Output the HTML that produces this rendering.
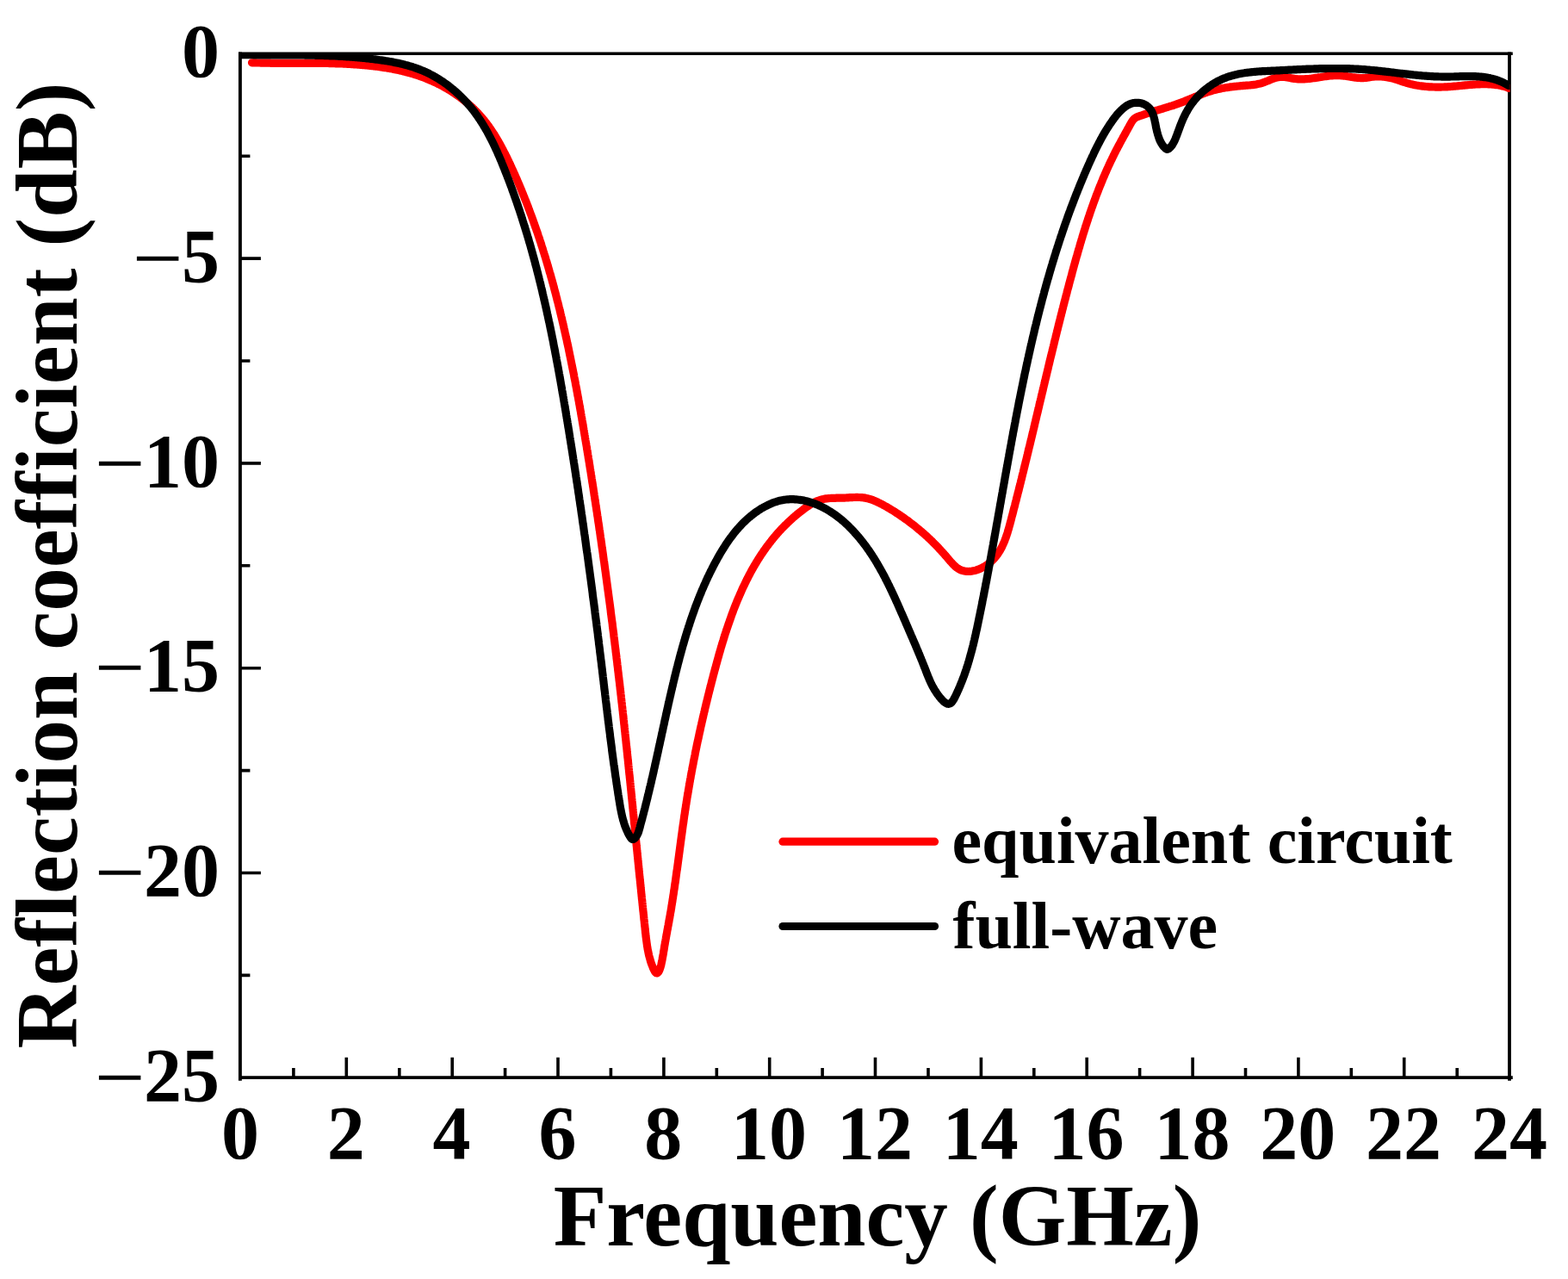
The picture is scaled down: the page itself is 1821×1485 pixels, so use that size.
<!DOCTYPE html>
<html><head><meta charset="utf-8"><title>Reflection coefficient</title>
<style>html,body{margin:0;padding:0;background:#fff;overflow:hidden;}svg{display:block;}</style></head>
<body><svg width="1821" height="1485" viewBox="0 0 1821 1485">
<rect width="1821" height="1485" fill="#fff"/>
<g stroke="#000" fill="none"><path d="M277,62.3 H1756.8" stroke-width="3.6"/><path d="M277,1251.1 H1756.8" stroke-width="3.7"/><path d="M278.9,60.5 V1254.8" stroke-width="3.9"/><path d="M1753.0,60.5 V1254.8" stroke-width="3.8"/></g>
<path d="M340.9,1251.1 V1239.8999999999999 M402.3,1251.1 V1227.8 M463.8,1251.1 V1239.8999999999999 M525.2,1251.1 V1227.8 M586.6,1251.1 V1239.8999999999999 M648.0,1251.1 V1227.8 M709.4,1251.1 V1239.8999999999999 M770.9,1251.1 V1227.8 M832.3,1251.1 V1239.8999999999999 M893.7,1251.1 V1227.8 M955.1,1251.1 V1239.8999999999999 M1016.5,1251.1 V1227.8 M1078.0,1251.1 V1239.8999999999999 M1139.4,1251.1 V1227.8 M1200.8,1251.1 V1239.8999999999999 M1262.2,1251.1 V1227.8 M1323.6,1251.1 V1239.8999999999999 M1385.1,1251.1 V1227.8 M1446.5,1251.1 V1239.8999999999999 M1507.9,1251.1 V1227.8 M1569.3,1251.1 V1239.8999999999999 M1630.7,1251.1 V1227.8 M1692.2,1251.1 V1239.8999999999999 M278.9,181.2 H290.4 M278.9,300.1 H302.9 M278.9,419.0 H290.4 M278.9,537.9 H302.9 M278.9,656.8 H290.4 M278.9,775.7 H302.9 M278.9,894.6 H290.4 M278.9,1013.5 H302.9 M278.9,1132.4 H290.4" stroke="#000" stroke-width="3.6" fill="none"/>
<defs><clipPath id="pa"><rect x="278.9" y="62.3" width="1474.7" height="1188.8"/></clipPath></defs>
<g clip-path="url(#pa)" fill="none" stroke-width="9.2" stroke-linejoin="round" stroke-linecap="round">
<path d="M292.5,72.8 L294.0,72.8 L295.5,72.9 L297.0,72.9 L298.5,73.0 L300.0,73.0 L301.5,73.0 L303.0,73.1 L304.5,73.1 L306.0,73.1 L307.5,73.2 L309.0,73.2 L310.5,73.2 L312.0,73.2 L313.5,73.2 L315.0,73.3 L316.5,73.3 L318.0,73.3 L319.5,73.3 L321.0,73.3 L322.5,73.3 L324.0,73.3 L325.5,73.3 L327.0,73.3 L328.5,73.3 L330.0,73.3 L331.5,73.3 L333.0,73.3 L334.5,73.3 L336.0,73.3 L337.5,73.3 L339.0,73.3 L340.5,73.3 L342.0,73.3 L343.5,73.3 L345.0,73.3 L346.5,73.3 L348.0,73.3 L349.5,73.3 L351.0,73.3 L352.5,73.3 L354.0,73.3 L355.5,73.3 L357.0,73.3 L358.5,73.3 L360.0,73.3 L361.5,73.3 L363.1,73.3 L364.6,73.3 L366.1,73.4 L367.6,73.4 L369.1,73.4 L370.6,73.4 L372.1,73.4 L373.6,73.4 L375.1,73.4 L376.6,73.5 L378.1,73.5 L379.6,73.5 L381.1,73.5 L382.6,73.6 L384.1,73.6 L385.6,73.6 L387.1,73.7 L388.6,73.7 L390.1,73.8 L391.6,73.8 L393.1,73.9 L394.6,73.9 L396.1,74.0 L397.6,74.0 L399.1,74.1 L400.6,74.2 L402.1,74.2 L403.6,74.3 L405.1,74.4 L406.6,74.5 L408.1,74.6 L409.6,74.7 L411.1,74.8 L412.6,74.9 L414.1,75.0 L415.6,75.1 L417.1,75.2 L418.6,75.3 L420.0,75.4 L421.5,75.6 L423.0,75.7 L424.5,75.8 L426.0,76.0 L427.5,76.1 L429.0,76.3 L430.5,76.4 L432.0,76.6 L433.5,76.8 L435.0,76.9 L436.5,77.1 L437.9,77.3 L439.4,77.5 L440.9,77.7 L442.4,77.9 L443.9,78.1 L445.4,78.4 L446.9,78.6 L448.3,78.8 L449.8,79.1 L451.3,79.3 L452.8,79.6 L454.2,79.8 L455.7,80.1 L457.2,80.4 L458.7,80.7 L460.1,81.0 L461.6,81.3 L463.1,81.6 L464.5,81.9 L466.0,82.3 L467.4,82.6 L468.9,83.0 L470.3,83.3 L471.8,83.7 L473.2,84.1 L474.7,84.5 L476.1,84.9 L477.6,85.3 L479.0,85.7 L480.4,86.1 L481.9,86.6 L483.3,87.0 L484.7,87.5 L486.1,88.0 L487.5,88.5 L488.9,88.9 L490.4,89.5 L491.8,90.0 L493.2,90.5 L494.6,91.1 L496.0,91.6 L497.3,92.2 L498.7,92.8 L500.1,93.3 L501.5,93.9 L502.9,94.6 L504.2,95.2 L505.6,95.8 L506.9,96.5 L508.3,97.2 L509.6,97.8 L511.0,98.5 L512.3,99.2 L513.7,99.9 L515.0,100.7 L516.3,101.4 L517.6,102.1 L518.9,102.9 L520.2,103.7 L521.5,104.4 L522.8,105.2 L524.1,106.0 L525.4,106.8 L526.6,107.7 L527.9,108.5 L529.1,109.3 L530.4,110.2 L531.6,111.1 L532.8,111.9 L534.1,112.8 L535.3,113.7 L536.5,114.6 L537.7,115.6 L538.8,116.5 L540.0,117.4 L541.2,118.4 L542.3,119.3 L543.5,120.3 L544.6,121.3 L545.7,122.3 L546.9,123.3 L548.0,124.3 L549.0,125.3 L550.1,126.3 L551.2,127.4 L552.2,128.4 L553.3,129.5 L554.3,130.6 L555.3,131.7 L556.3,132.8 L557.3,133.9 L558.3,135.0 L559.3,136.1 L560.2,137.2 L561.2,138.4 L562.1,139.5 L563.1,140.7 L564.0,141.9 L564.9,143.0 L565.8,144.2 L566.7,145.4 L567.5,146.6 L568.4,147.8 L569.2,149.1 L570.1,150.3 L570.9,151.5 L571.7,152.7 L572.6,154.0 L573.4,155.2 L574.2,156.5 L575.0,157.8 L575.7,159.0 L576.5,160.3 L577.3,161.6 L578.0,162.9 L578.8,164.2 L579.5,165.5 L580.3,166.8 L581.0,168.1 L581.7,169.4 L582.4,170.7 L583.1,172.1 L583.9,173.4 L584.5,174.7 L585.2,176.1 L585.9,177.4 L586.6,178.7 L587.3,180.1 L588.0,181.4 L588.6,182.8 L589.3,184.2 L589.9,185.5 L590.6,186.9 L591.2,188.2 L591.9,189.6 L592.5,191.0 L593.1,192.3 L593.8,193.7 L594.4,195.1 L595.0,196.4 L595.6,197.8 L596.3,199.2 L596.9,200.6 L597.5,201.9 L598.1,203.3 L598.7,204.7 L599.3,206.1 L599.9,207.5 L600.5,208.8 L601.1,210.2 L601.7,211.6 L602.3,213.0 L602.9,214.4 L603.5,215.8 L604.0,217.1 L604.6,218.5 L605.2,219.9 L605.8,221.3 L606.3,222.7 L606.9,224.1 L607.5,225.5 L608.0,226.9 L608.6,228.3 L609.2,229.7 L609.7,231.1 L610.3,232.5 L610.8,233.8 L611.4,235.2 L611.9,236.6 L612.4,238.0 L613.0,239.4 L613.5,240.8 L614.0,242.2 L614.6,243.6 L615.1,245.1 L615.6,246.5 L616.1,247.9 L616.7,249.3 L617.2,250.7 L617.7,252.1 L618.2,253.5 L618.7,254.9 L619.2,256.3 L619.7,257.7 L620.2,259.1 L620.7,260.5 L621.2,262.0 L621.7,263.4 L622.2,264.8 L622.7,266.2 L623.2,267.6 L623.7,269.0 L624.2,270.4 L624.7,271.9 L625.1,273.3 L625.6,274.7 L626.1,276.1 L626.6,277.5 L627.0,279.0 L627.5,280.4 L628.0,281.8 L628.4,283.2 L628.9,284.7 L629.3,286.1 L629.8,287.5 L630.2,288.9 L630.7,290.4 L631.1,291.8 L631.6,293.2 L632.0,294.6 L632.5,296.1 L632.9,297.5 L633.4,298.9 L633.8,300.4 L634.2,301.8 L634.7,303.2 L635.1,304.7 L635.5,306.1 L635.9,307.5 L636.4,309.0 L636.8,310.4 L637.2,311.9 L637.6,313.3 L638.0,314.7 L638.4,316.2 L638.9,317.6 L639.3,319.0 L639.7,320.5 L640.1,321.9 L640.5,323.4 L640.9,324.8 L641.3,326.3 L641.7,327.7 L642.1,329.1 L642.5,330.6 L642.9,332.0 L643.3,333.5 L643.6,334.9 L644.0,336.4 L644.4,337.8 L644.8,339.3 L645.2,340.7 L645.6,342.2 L645.9,343.6 L646.3,345.1 L646.7,346.5 L647.0,348.0 L647.4,349.4 L647.8,350.9 L648.2,352.3 L648.5,353.8 L648.9,355.2 L649.2,356.7 L649.6,358.1 L650.0,359.6 L650.3,361.0 L650.7,362.5 L651.0,364.0 L651.4,365.4 L651.7,366.9 L652.1,368.3 L652.4,369.8 L652.8,371.2 L653.1,372.7 L653.5,374.2 L653.8,375.6 L654.1,377.1 L654.5,378.5 L654.8,380.0 L655.1,381.5 L655.5,382.9 L655.8,384.4 L656.1,385.9 L656.5,387.3 L656.8,388.8 L657.1,390.3 L657.4,391.7 L657.8,393.2 L658.1,394.6 L658.4,396.1 L658.7,397.6 L659.0,399.0 L659.4,400.5 L659.7,402.0 L660.0,403.4 L660.3,404.9 L660.6,406.4 L660.9,407.9 L661.2,409.3 L661.5,410.8 L661.8,412.3 L662.1,413.7 L662.4,415.2 L662.7,416.7 L663.0,418.1 L663.3,419.6 L663.6,421.1 L663.9,422.6 L664.2,424.0 L664.5,425.5 L664.8,427.0 L665.1,428.5 L665.4,429.9 L665.7,431.4 L666.0,432.9 L666.3,434.3 L666.6,435.8 L666.8,437.3 L667.1,438.8 L667.4,440.2 L667.7,441.7 L668.0,443.2 L668.3,444.7 L668.5,446.2 L668.8,447.6 L669.1,449.1 L669.4,450.6 L669.7,452.1 L669.9,453.5 L670.2,455.0 L670.5,456.5 L670.7,458.0 L671.0,459.5 L671.3,460.9 L671.6,462.4 L671.8,463.9 L672.1,465.4 L672.4,466.8 L672.6,468.3 L672.9,469.8 L673.2,471.3 L673.4,472.8 L673.7,474.2 L673.9,475.7 L674.2,477.2 L674.5,478.7 L674.7,480.2 L675.0,481.6 L675.2,483.1 L675.5,484.6 L675.8,486.1 L676.0,487.6 L676.3,489.1 L676.5,490.5 L676.8,492.0 L677.0,493.5 L677.3,495.0 L677.5,496.5 L677.8,497.9 L678.0,499.4 L678.3,500.9 L678.5,502.4 L678.8,503.9 L679.0,505.4 L679.3,506.8 L679.5,508.3 L679.8,509.8 L680.0,511.3 L680.3,512.8 L680.5,514.3 L680.8,515.7 L681.0,517.2 L681.3,518.7 L681.5,520.2 L681.7,521.7 L682.0,523.2 L682.2,524.6 L682.5,526.1 L682.7,527.6 L683.0,529.1 L683.2,530.6 L683.4,532.1 L683.7,533.5 L683.9,535.0 L684.2,536.5 L684.4,538.0 L684.6,539.5 L684.9,541.0 L685.1,542.4 L685.3,543.9 L685.6,545.4 L685.8,546.9 L686.1,548.4 L686.3,549.9 L686.5,551.4 L686.8,552.8 L687.0,554.3 L687.2,555.8 L687.5,557.3 L687.7,558.8 L687.9,560.3 L688.2,561.7 L688.4,563.2 L688.6,564.7 L688.9,566.2 L689.1,567.7 L689.3,569.2 L689.5,570.6 L689.8,572.1 L690.0,573.6 L690.2,575.1 L690.5,576.6 L690.7,578.1 L690.9,579.6 L691.1,581.0 L691.4,582.5 L691.6,584.0 L691.8,585.5 L692.0,587.0 L692.3,588.5 L692.5,589.9 L692.7,591.4 L692.9,592.9 L693.2,594.4 L693.4,595.9 L693.6,597.4 L693.8,598.9 L694.1,600.3 L694.3,601.8 L694.5,603.3 L694.7,604.8 L694.9,606.3 L695.2,607.8 L695.4,609.3 L695.6,610.7 L695.8,612.2 L696.0,613.7 L696.2,615.2 L696.5,616.7 L696.7,618.2 L696.9,619.7 L697.1,621.1 L697.3,622.6 L697.5,624.1 L697.8,625.6 L698.0,627.1 L698.2,628.6 L698.4,630.1 L698.6,631.5 L698.8,633.0 L699.0,634.5 L699.2,636.0 L699.5,637.5 L699.7,639.0 L699.9,640.5 L700.1,641.9 L700.3,643.4 L700.5,644.9 L700.7,646.4 L700.9,647.9 L701.1,649.4 L701.3,650.9 L701.6,652.3 L701.8,653.8 L702.0,655.3 L702.2,656.8 L702.4,658.3 L702.6,659.8 L702.8,661.3 L703.0,662.8 L703.2,664.2 L703.4,665.7 L703.6,667.2 L703.8,668.7 L704.0,670.2 L704.2,671.7 L704.4,673.2 L704.6,674.6 L704.8,676.1 L705.0,677.6 L705.2,679.1 L705.4,680.6 L705.6,682.1 L705.8,683.6 L706.0,685.1 L706.2,686.5 L706.4,688.0 L706.6,689.5 L706.8,691.0 L707.0,692.5 L707.2,694.0 L707.4,695.5 L707.6,697.0 L707.8,698.4 L708.0,699.9 L708.2,701.4 L708.4,702.9 L708.6,704.4 L708.8,705.9 L709.0,707.4 L709.2,708.9 L709.3,710.3 L709.5,711.8 L709.7,713.3 L709.9,714.8 L710.1,716.3 L710.3,717.8 L710.5,719.3 L710.7,720.8 L710.9,722.2 L711.1,723.7 L711.3,725.2 L711.4,726.7 L711.6,728.2 L711.8,729.7 L712.0,731.2 L712.2,732.7 L712.4,734.2 L712.6,735.6 L712.8,737.1 L712.9,738.6 L713.1,740.1 L713.3,741.6 L713.5,743.1 L713.7,744.6 L713.9,746.1 L714.0,747.5 L714.2,749.0 L714.4,750.5 L714.6,752.0 L714.8,753.5 L715.0,755.0 L715.1,756.5 L715.3,758.0 L715.5,759.5 L715.7,760.9 L715.9,762.4 L716.0,763.9 L716.2,765.4 L716.4,766.9 L716.6,768.4 L716.8,769.9 L716.9,771.4 L717.1,772.9 L717.3,774.3 L717.5,775.8 L717.6,777.3 L717.8,778.8 L718.0,780.3 L718.2,781.8 L718.3,783.3 L718.5,784.8 L718.7,786.3 L718.9,787.8 L719.0,789.2 L719.2,790.7 L719.4,792.2 L719.6,793.7 L719.7,795.2 L719.9,796.7 L720.1,798.2 L720.2,799.7 L720.4,801.2 L720.6,802.6 L720.8,804.1 L720.9,805.6 L721.1,807.1 L721.3,808.6 L721.4,810.1 L721.6,811.6 L721.8,813.1 L721.9,814.6 L722.1,816.1 L722.3,817.6 L722.4,819.0 L722.6,820.5 L722.8,822.0 L722.9,823.5 L723.1,825.0 L723.3,826.5 L723.4,828.0 L723.6,829.5 L723.8,831.0 L723.9,832.5 L724.1,833.9 L724.2,835.4 L724.4,836.9 L724.6,838.4 L724.7,839.9 L724.9,841.4 L725.1,842.9 L725.2,844.4 L725.4,845.9 L725.5,847.4 L725.7,848.9 L725.9,850.3 L726.0,851.8 L726.2,853.3 L726.3,854.8 L726.5,856.3 L726.7,857.8 L726.8,859.3 L727.0,860.8 L727.1,862.3 L727.3,863.8 L727.4,865.3 L727.6,866.7 L727.8,868.2 L727.9,869.7 L728.1,871.2 L728.2,872.7 L728.4,874.2 L728.5,875.7 L728.7,877.2 L728.8,878.7 L729.0,880.2 L729.2,881.7 L729.3,883.2 L729.5,884.6 L729.6,886.1 L729.8,887.6 L729.9,889.1 L730.1,890.6 L730.2,892.1 L730.4,893.6 L730.5,895.1 L730.7,896.6 L730.8,898.1 L731.0,899.6 L731.2,901.1 L731.3,902.6 L731.5,904.0 L731.6,905.5 L731.8,907.0 L731.9,908.5 L732.1,910.0 L732.2,911.5 L732.4,913.0 L732.5,914.5 L732.7,916.0 L732.8,917.5 L733.0,919.0 L733.1,920.5 L733.3,922.0 L733.4,923.5 L733.6,924.9 L733.7,926.4 L733.9,927.9 L734.0,929.4 L734.2,930.9 L734.3,932.4 L734.5,933.9 L734.6,935.4 L734.8,936.9 L734.9,938.4 L735.1,939.9 L735.2,941.4 L735.4,942.9 L735.5,944.4 L735.7,945.9 L735.8,947.4 L736.0,948.9 L736.1,950.3 L736.3,951.8 L736.4,953.3 L736.6,954.8 L736.7,956.3 L736.9,957.8 L737.0,959.3 L737.2,960.8 L737.3,962.3 L737.5,963.8 L737.6,965.3 L737.8,966.8 L737.9,968.3 L738.1,969.8 L738.2,971.3 L738.3,972.8 L738.5,974.3 L738.6,975.8 L738.8,977.3 L738.9,978.8 L739.1,980.2 L739.2,981.7 L739.4,983.2 L739.5,984.7 L739.7,986.2 L739.8,987.7 L740.0,989.2 L740.1,990.7 L740.3,992.2 L740.4,993.7 L740.6,995.2 L740.7,996.7 L740.9,998.2 L741.0,999.7 L741.2,1001.2 L741.3,1002.7 L741.5,1004.2 L741.6,1005.7 L741.8,1007.2 L741.9,1008.7 L742.1,1010.2 L742.2,1011.7 L742.4,1013.2 L742.5,1014.7 L742.7,1016.2 L742.8,1017.7 L743.0,1019.2 L743.2,1020.7 L743.3,1022.2 L743.5,1023.7 L743.6,1025.2 L743.8,1026.7 L743.9,1028.2 L744.1,1029.7 L744.2,1031.2 L744.4,1032.7 L744.5,1034.2 L744.7,1035.7 L744.8,1037.1 L745.0,1038.6 L745.1,1040.1 L745.3,1041.6 L745.4,1043.1 L745.6,1044.6 L745.8,1046.1 L745.9,1047.6 L746.1,1049.1 L746.2,1050.6 L746.4,1052.1 L746.5,1053.6 L746.7,1055.1 L746.8,1056.6 L747.0,1058.1 L747.2,1059.6 L747.3,1061.1 L747.5,1062.6 L747.6,1064.1 L747.8,1065.6 L747.9,1067.1 L748.1,1068.6 L748.3,1070.1 L748.4,1071.6 L748.6,1073.1 L748.7,1074.7 L748.9,1076.2 L749.1,1077.7 L749.2,1079.2 L749.4,1080.7 L749.5,1082.2 L749.7,1083.7 L749.9,1085.2 L750.0,1086.7 L750.2,1088.2 L750.4,1089.7 L750.6,1091.2 L750.8,1092.7 L751.0,1094.1 L751.2,1095.6 L751.4,1097.1 L751.6,1098.6 L751.9,1100.1 L752.1,1101.6 L752.4,1103.1 L752.7,1104.5 L753.0,1106.0 L753.3,1107.5 L753.6,1109.0 L754.0,1110.4 L754.4,1111.9 L754.8,1113.3 L755.2,1114.8 L755.6,1116.2 L756.1,1117.7 L756.6,1119.1 L757.1,1120.5 L757.7,1121.9 L758.2,1123.4 L758.8,1124.8 L759.5,1126.1 L760.1,1127.4 L760.8,1128.5 L761.5,1129.3 L762.3,1129.8 L763.0,1129.9 L763.7,1129.6 L764.5,1128.9 L765.1,1127.9 L765.7,1126.7 L766.3,1125.2 L766.9,1123.5 L767.4,1121.7 L767.9,1119.9 L768.3,1117.9 L768.7,1116.0 L769.1,1114.1 L769.4,1112.3 L769.7,1110.7 L770.0,1109.1 L770.3,1107.5 L770.5,1106.1 L770.7,1104.7 L771.0,1103.3 L771.2,1102.0 L771.4,1100.6 L771.6,1099.3 L771.8,1098.0 L772.1,1096.6 L772.3,1095.3 L772.5,1093.9 L772.8,1092.5 L773.0,1091.1 L773.3,1089.7 L773.5,1088.3 L773.8,1086.9 L774.0,1085.5 L774.3,1084.1 L774.6,1082.6 L774.8,1081.2 L775.1,1079.7 L775.4,1078.3 L775.6,1076.8 L775.9,1075.4 L776.2,1073.9 L776.4,1072.4 L776.7,1071.0 L777.0,1069.5 L777.2,1068.0 L777.5,1066.5 L777.8,1065.0 L778.0,1063.6 L778.3,1062.1 L778.5,1060.6 L778.8,1059.1 L779.1,1057.6 L779.3,1056.1 L779.6,1054.6 L779.8,1053.1 L780.0,1051.6 L780.3,1050.1 L780.5,1048.7 L780.8,1047.2 L781.0,1045.7 L781.2,1044.2 L781.5,1042.7 L781.7,1041.2 L781.9,1039.7 L782.2,1038.2 L782.4,1036.7 L782.6,1035.2 L782.8,1033.7 L783.1,1032.2 L783.3,1030.7 L783.5,1029.2 L783.7,1027.7 L783.9,1026.2 L784.2,1024.7 L784.4,1023.2 L784.6,1021.7 L784.8,1020.2 L785.0,1018.7 L785.2,1017.2 L785.4,1015.7 L785.6,1014.2 L785.8,1012.7 L786.0,1011.2 L786.3,1009.7 L786.5,1008.2 L786.7,1006.7 L786.9,1005.2 L787.1,1003.7 L787.3,1002.2 L787.5,1000.7 L787.7,999.2 L787.9,997.7 L788.1,996.2 L788.3,994.7 L788.5,993.2 L788.7,991.7 L788.9,990.2 L789.1,988.7 L789.3,987.2 L789.5,985.7 L789.7,984.2 L789.9,982.7 L790.1,981.2 L790.3,979.7 L790.5,978.2 L790.7,976.7 L790.9,975.2 L791.1,973.7 L791.3,972.2 L791.5,970.7 L791.7,969.3 L791.9,967.8 L792.1,966.3 L792.3,964.8 L792.5,963.3 L792.7,961.8 L792.9,960.3 L793.1,958.8 L793.3,957.3 L793.6,955.8 L793.8,954.3 L794.0,952.8 L794.2,951.4 L794.4,949.9 L794.6,948.4 L794.8,946.9 L795.1,945.4 L795.3,943.9 L795.5,942.4 L795.7,941.0 L796.0,939.5 L796.2,938.0 L796.4,936.5 L796.6,935.0 L796.9,933.6 L797.1,932.1 L797.3,930.6 L797.6,929.1 L797.8,927.7 L798.0,926.2 L798.3,924.7 L798.5,923.2 L798.8,921.8 L799.0,920.3 L799.3,918.8 L799.5,917.3 L799.8,915.9 L800.0,914.4 L800.3,912.9 L800.5,911.5 L800.8,910.0 L801.0,908.5 L801.3,907.1 L801.5,905.6 L801.8,904.1 L802.1,902.7 L802.3,901.2 L802.6,899.7 L802.9,898.3 L803.1,896.8 L803.4,895.4 L803.7,893.9 L803.9,892.4 L804.2,891.0 L804.5,889.5 L804.8,888.1 L805.1,886.6 L805.3,885.1 L805.6,883.7 L805.9,882.2 L806.2,880.8 L806.5,879.3 L806.8,877.8 L807.1,876.4 L807.3,874.9 L807.6,873.5 L807.9,872.0 L808.2,870.6 L808.5,869.1 L808.8,867.7 L809.1,866.2 L809.4,864.7 L809.7,863.3 L810.0,861.8 L810.3,860.4 L810.7,858.9 L811.0,857.5 L811.3,856.0 L811.6,854.6 L811.9,853.1 L812.2,851.7 L812.5,850.2 L812.9,848.7 L813.2,847.3 L813.5,845.8 L813.8,844.4 L814.1,842.9 L814.5,841.5 L814.8,840.0 L815.1,838.6 L815.5,837.1 L815.8,835.7 L816.1,834.2 L816.5,832.8 L816.8,831.3 L817.1,829.8 L817.5,828.4 L817.8,826.9 L818.2,825.5 L818.5,824.0 L818.8,822.6 L819.2,821.1 L819.5,819.7 L819.9,818.2 L820.2,816.8 L820.6,815.3 L821.0,813.8 L821.3,812.4 L821.7,810.9 L822.0,809.5 L822.4,808.0 L822.7,806.6 L823.1,805.1 L823.5,803.6 L823.8,802.2 L824.2,800.7 L824.6,799.3 L824.9,797.8 L825.3,796.3 L825.7,794.9 L826.1,793.4 L826.4,792.0 L826.8,790.5 L827.2,789.0 L827.6,787.6 L828.0,786.1 L828.3,784.6 L828.7,783.2 L829.1,781.7 L829.5,780.2 L829.9,778.8 L830.3,777.3 L830.7,775.8 L831.1,774.4 L831.5,772.9 L831.9,771.4 L832.3,770.0 L832.7,768.5 L833.1,767.1 L833.5,765.6 L833.9,764.1 L834.3,762.7 L834.7,761.2 L835.1,759.7 L835.5,758.3 L836.0,756.8 L836.4,755.3 L836.8,753.9 L837.2,752.4 L837.7,750.9 L838.1,749.5 L838.5,748.0 L839.0,746.6 L839.4,745.1 L839.9,743.7 L840.3,742.2 L840.8,740.7 L841.2,739.3 L841.7,737.8 L842.1,736.4 L842.6,734.9 L843.1,733.5 L843.6,732.0 L844.0,730.6 L844.5,729.2 L845.0,727.7 L845.5,726.3 L846.0,724.8 L846.5,723.4 L847.0,722.0 L847.5,720.5 L848.0,719.1 L848.5,717.7 L849.0,716.2 L849.5,714.8 L850.0,713.4 L850.5,712.0 L851.1,710.6 L851.6,709.1 L852.1,707.7 L852.7,706.3 L853.2,704.9 L853.8,703.5 L854.3,702.1 L854.9,700.7 L855.5,699.3 L856.0,697.9 L856.6,696.5 L857.2,695.1 L857.8,693.7 L858.4,692.4 L859.0,691.0 L859.6,689.6 L860.2,688.2 L860.8,686.9 L861.4,685.5 L862.0,684.1 L862.6,682.8 L863.3,681.4 L863.9,680.1 L864.6,678.7 L865.2,677.4 L865.9,676.0 L866.5,674.7 L867.2,673.3 L867.9,672.0 L868.5,670.7 L869.2,669.4 L869.9,668.0 L870.6,666.7 L871.3,665.4 L872.0,664.1 L872.7,662.8 L873.4,661.5 L874.2,660.2 L874.9,658.9 L875.6,657.6 L876.4,656.4 L877.1,655.1 L877.9,653.8 L878.7,652.5 L879.4,651.3 L880.2,650.0 L881.0,648.8 L881.8,647.5 L882.6,646.3 L883.4,645.0 L884.2,643.8 L885.0,642.6 L885.9,641.4 L886.7,640.1 L887.5,638.9 L888.4,637.7 L889.3,636.5 L890.1,635.3 L891.0,634.1 L891.9,633.0 L892.8,631.8 L893.7,630.6 L894.6,629.4 L895.5,628.3 L896.4,627.1 L897.3,626.0 L898.2,624.8 L899.2,623.7 L900.1,622.6 L901.1,621.4 L902.1,620.3 L903.0,619.2 L904.0,618.1 L905.0,617.0 L906.0,615.9 L907.0,614.8 L908.0,613.7 L909.1,612.7 L910.1,611.6 L911.1,610.5 L912.2,609.5 L913.3,608.4 L914.3,607.4 L915.4,606.4 L916.5,605.3 L917.6,604.3 L918.7,603.3 L919.8,602.3 L920.9,601.3 L922.1,600.3 L923.2,599.3 L924.4,598.4 L925.5,597.4 L926.7,596.4 L927.9,595.5 L929.1,594.5 L930.3,593.6 L931.5,592.7 L932.7,591.7 L933.9,590.8 L935.1,589.9 L936.4,589.0 L937.7,588.1 L938.9,587.3 L940.2,586.4 L941.5,585.6 L942.8,584.8 L944.1,584.1 L945.4,583.4 L946.8,582.7 L948.1,582.1 L949.5,581.5 L950.9,581.0 L952.3,580.5 L953.7,580.1 L955.1,579.7 L956.6,579.4 L958.0,579.1 L959.5,578.9 L961.0,578.8 L962.4,578.6 L963.9,578.5 L965.4,578.4 L966.9,578.3 L968.5,578.3 L970.0,578.3 L971.5,578.2 L973.0,578.2 L974.5,578.2 L976.1,578.2 L977.6,578.2 L979.1,578.1 L980.7,578.1 L982.2,578.0 L983.7,577.9 L985.2,577.8 L986.8,577.7 L988.3,577.7 L989.8,577.6 L991.3,577.5 L992.8,577.5 L994.3,577.4 L995.8,577.4 L997.3,577.5 L998.8,577.5 L1000.2,577.6 L1001.7,577.7 L1003.1,577.9 L1004.6,578.1 L1006.0,578.4 L1007.4,578.7 L1008.8,579.1 L1010.2,579.5 L1011.6,579.9 L1013.0,580.4 L1014.4,580.9 L1015.8,581.5 L1017.1,582.1 L1018.5,582.7 L1019.8,583.3 L1021.2,584.0 L1022.5,584.6 L1023.9,585.3 L1025.2,586.0 L1026.5,586.8 L1027.8,587.5 L1029.2,588.2 L1030.5,589.0 L1031.8,589.8 L1033.1,590.5 L1034.4,591.3 L1035.7,592.1 L1037.0,592.9 L1038.3,593.7 L1039.6,594.5 L1040.8,595.3 L1042.1,596.2 L1043.4,597.0 L1044.7,597.8 L1045.9,598.7 L1047.2,599.6 L1048.4,600.4 L1049.7,601.3 L1050.9,602.2 L1052.1,603.1 L1053.4,603.9 L1054.6,604.8 L1055.8,605.7 L1057.0,606.7 L1058.2,607.6 L1059.4,608.5 L1060.6,609.4 L1061.8,610.3 L1063.0,611.3 L1064.1,612.2 L1065.3,613.2 L1066.4,614.1 L1067.6,615.1 L1068.7,616.0 L1069.9,617.0 L1071.0,618.0 L1072.1,618.9 L1073.2,619.9 L1074.3,620.9 L1075.4,621.9 L1076.5,622.8 L1077.5,623.8 L1078.6,624.8 L1079.7,625.8 L1080.7,626.8 L1081.8,627.8 L1082.8,628.8 L1083.8,629.9 L1084.9,630.9 L1085.9,631.9 L1086.9,633.0 L1087.9,634.0 L1089.0,635.1 L1090.0,636.2 L1091.0,637.3 L1092.0,638.4 L1093.0,639.5 L1094.0,640.6 L1095.1,641.7 L1096.1,642.9 L1097.1,644.0 L1098.1,645.2 L1099.2,646.4 L1100.2,647.6 L1101.2,648.8 L1102.3,650.1 L1103.3,651.3 L1104.4,652.5 L1105.5,653.7 L1106.6,654.9 L1107.7,656.0 L1108.8,657.1 L1110.0,658.1 L1111.1,659.1 L1112.4,659.9 L1113.6,660.7 L1114.9,661.4 L1116.2,662.0 L1117.5,662.4 L1118.9,662.8 L1120.3,663.1 L1121.7,663.3 L1123.1,663.4 L1124.6,663.5 L1126.0,663.4 L1127.5,663.3 L1128.9,663.1 L1130.4,662.8 L1131.9,662.5 L1133.3,662.1 L1134.8,661.6 L1136.2,661.1 L1137.6,660.6 L1139.0,659.9 L1140.4,659.3 L1141.8,658.5 L1143.1,657.8 L1144.5,657.0 L1145.7,656.1 L1147.0,655.3 L1148.2,654.4 L1149.4,653.4 L1150.5,652.5 L1151.6,651.5 L1152.6,650.5 L1153.7,649.4 L1154.6,648.4 L1155.6,647.3 L1156.5,646.2 L1157.4,645.0 L1158.3,643.9 L1159.1,642.7 L1159.9,641.5 L1160.7,640.3 L1161.4,639.1 L1162.1,637.8 L1162.8,636.5 L1163.5,635.2 L1164.1,633.9 L1164.7,632.6 L1165.3,631.3 L1165.9,629.9 L1166.5,628.6 L1167.0,627.2 L1167.5,625.8 L1168.1,624.4 L1168.5,623.0 L1169.0,621.6 L1169.5,620.1 L1170.0,618.7 L1170.4,617.3 L1170.8,615.8 L1171.3,614.4 L1171.7,612.9 L1172.1,611.4 L1172.5,610.0 L1172.9,608.5 L1173.3,607.0 L1173.7,605.5 L1174.1,604.1 L1174.5,602.6 L1174.8,601.1 L1175.2,599.6 L1175.6,598.2 L1176.0,596.7 L1176.4,595.2 L1176.8,593.7 L1177.1,592.3 L1177.5,590.8 L1177.9,589.3 L1178.3,587.9 L1178.7,586.4 L1179.0,584.9 L1179.4,583.4 L1179.8,582.0 L1180.2,580.5 L1180.5,579.0 L1180.9,577.5 L1181.3,576.1 L1181.7,574.6 L1182.0,573.1 L1182.4,571.7 L1182.8,570.2 L1183.2,568.7 L1183.5,567.3 L1183.9,565.8 L1184.3,564.3 L1184.6,562.8 L1185.0,561.4 L1185.4,559.9 L1185.7,558.4 L1186.1,557.0 L1186.5,555.5 L1186.8,554.0 L1187.2,552.6 L1187.5,551.1 L1187.9,549.6 L1188.3,548.2 L1188.6,546.7 L1189.0,545.2 L1189.3,543.8 L1189.7,542.3 L1190.1,540.8 L1190.4,539.4 L1190.8,537.9 L1191.1,536.4 L1191.5,535.0 L1191.9,533.5 L1192.2,532.1 L1192.6,530.6 L1192.9,529.1 L1193.3,527.7 L1193.6,526.2 L1194.0,524.7 L1194.3,523.3 L1194.7,521.8 L1195.0,520.3 L1195.4,518.9 L1195.8,517.4 L1196.1,516.0 L1196.5,514.5 L1196.8,513.0 L1197.2,511.6 L1197.5,510.1 L1197.9,508.7 L1198.2,507.2 L1198.6,505.7 L1198.9,504.3 L1199.3,502.8 L1199.6,501.3 L1200.0,499.9 L1200.3,498.4 L1200.7,497.0 L1201.0,495.5 L1201.4,494.0 L1201.7,492.6 L1202.0,491.1 L1202.4,489.7 L1202.7,488.2 L1203.1,486.8 L1203.4,485.3 L1203.8,483.8 L1204.1,482.4 L1204.5,480.9 L1204.8,479.5 L1205.2,478.0 L1205.5,476.5 L1205.9,475.1 L1206.2,473.6 L1206.6,472.2 L1206.9,470.7 L1207.2,469.3 L1207.6,467.8 L1207.9,466.3 L1208.3,464.9 L1208.6,463.4 L1209.0,462.0 L1209.3,460.5 L1209.7,459.1 L1210.0,457.6 L1210.4,456.1 L1210.7,454.7 L1211.1,453.2 L1211.4,451.8 L1211.7,450.3 L1212.1,448.9 L1212.4,447.4 L1212.8,446.0 L1213.1,444.5 L1213.5,443.1 L1213.8,441.6 L1214.2,440.1 L1214.5,438.7 L1214.9,437.2 L1215.2,435.8 L1215.6,434.3 L1215.9,432.9 L1216.3,431.4 L1216.6,430.0 L1217.0,428.5 L1217.3,427.1 L1217.6,425.6 L1218.0,424.1 L1218.3,422.7 L1218.7,421.2 L1219.0,419.8 L1219.4,418.3 L1219.7,416.9 L1220.1,415.4 L1220.4,414.0 L1220.8,412.5 L1221.2,411.1 L1221.5,409.6 L1221.9,408.2 L1222.2,406.7 L1222.6,405.3 L1222.9,403.8 L1223.3,402.4 L1223.6,400.9 L1224.0,399.5 L1224.3,398.0 L1224.7,396.5 L1225.0,395.1 L1225.4,393.6 L1225.8,392.2 L1226.1,390.7 L1226.5,389.3 L1226.8,387.8 L1227.2,386.4 L1227.5,384.9 L1227.9,383.5 L1228.3,382.0 L1228.6,380.6 L1229.0,379.1 L1229.3,377.7 L1229.7,376.2 L1230.1,374.8 L1230.4,373.3 L1230.8,371.9 L1231.2,370.4 L1231.5,369.0 L1231.9,367.5 L1232.3,366.1 L1232.6,364.6 L1233.0,363.2 L1233.4,361.7 L1233.7,360.3 L1234.1,358.8 L1234.5,357.4 L1234.8,355.9 L1235.2,354.5 L1235.6,353.0 L1236.0,351.6 L1236.3,350.1 L1236.7,348.7 L1237.1,347.2 L1237.5,345.8 L1237.8,344.3 L1238.2,342.9 L1238.6,341.4 L1239.0,340.0 L1239.3,338.5 L1239.7,337.1 L1240.1,335.6 L1240.5,334.2 L1240.9,332.7 L1241.3,331.3 L1241.6,329.8 L1242.0,328.4 L1242.4,326.9 L1242.8,325.5 L1243.2,324.0 L1243.6,322.6 L1244.0,321.1 L1244.4,319.7 L1244.8,318.2 L1245.1,316.8 L1245.5,315.3 L1245.9,313.9 L1246.3,312.4 L1246.7,311.0 L1247.1,309.5 L1247.5,308.1 L1247.9,306.6 L1248.3,305.2 L1248.7,303.7 L1249.1,302.3 L1249.5,300.8 L1249.9,299.4 L1250.3,297.9 L1250.8,296.5 L1251.2,295.0 L1251.6,293.6 L1252.0,292.1 L1252.4,290.7 L1252.8,289.2 L1253.3,287.8 L1253.7,286.4 L1254.1,284.9 L1254.5,283.5 L1254.9,282.0 L1255.4,280.6 L1255.8,279.1 L1256.2,277.7 L1256.7,276.3 L1257.1,274.8 L1257.5,273.4 L1258.0,271.9 L1258.4,270.5 L1258.9,269.1 L1259.3,267.6 L1259.8,266.2 L1260.2,264.8 L1260.7,263.3 L1261.1,261.9 L1261.6,260.5 L1262.1,259.0 L1262.5,257.6 L1263.0,256.2 L1263.5,254.7 L1263.9,253.3 L1264.4,251.9 L1264.9,250.5 L1265.4,249.0 L1265.8,247.6 L1266.3,246.2 L1266.8,244.8 L1267.3,243.4 L1267.8,241.9 L1268.3,240.5 L1268.8,239.1 L1269.3,237.7 L1269.8,236.3 L1270.3,234.9 L1270.8,233.5 L1271.4,232.0 L1271.9,230.6 L1272.4,229.2 L1272.9,227.8 L1273.4,226.4 L1274.0,225.0 L1274.5,223.6 L1275.1,222.2 L1275.6,220.8 L1276.1,219.4 L1276.7,218.0 L1277.2,216.6 L1277.8,215.2 L1278.4,213.9 L1278.9,212.5 L1279.5,211.1 L1280.1,209.7 L1280.6,208.3 L1281.2,206.9 L1281.8,205.5 L1282.4,204.2 L1283.0,202.8 L1283.6,201.4 L1284.2,200.0 L1284.8,198.7 L1285.4,197.3 L1286.0,195.9 L1286.6,194.6 L1287.2,193.2 L1287.9,191.8 L1288.5,190.5 L1289.1,189.1 L1289.8,187.8 L1290.4,186.4 L1291.1,185.1 L1291.7,183.7 L1292.4,182.4 L1293.0,181.0 L1293.7,179.7 L1294.4,178.3 L1295.0,177.0 L1295.7,175.7 L1296.4,174.3 L1297.1,173.0 L1297.8,171.7 L1298.5,170.3 L1299.2,169.0 L1299.9,167.7 L1300.6,166.4 L1301.3,165.1 L1302.0,163.7 L1302.8,162.4 L1303.5,161.1 L1304.2,159.8 L1304.9,158.4 L1305.7,157.1 L1306.4,155.8 L1307.1,154.5 L1307.8,153.2 L1308.6,151.8 L1309.3,150.5 L1310.0,149.2 L1310.8,147.9 L1311.5,146.5 L1312.2,145.2 L1313.0,143.9 L1313.7,142.5 L1314.5,141.3 L1315.3,140.1 L1316.2,138.9 L1317.2,137.9 L1318.3,137.0 L1319.6,136.3 L1320.9,135.6 L1322.3,135.1 L1323.7,134.6 L1325.2,134.1 L1326.7,133.7 L1328.1,133.2 L1329.6,132.7 L1331.0,132.2 L1332.5,131.7 L1333.9,131.2 L1335.4,130.7 L1336.8,130.2 L1338.2,129.8 L1339.7,129.3 L1341.1,128.9 L1342.5,128.4 L1344.0,128.0 L1345.4,127.6 L1346.8,127.1 L1348.3,126.7 L1349.7,126.3 L1351.1,125.8 L1352.5,125.4 L1354.0,125.0 L1355.4,124.5 L1356.8,124.1 L1358.2,123.7 L1359.7,123.2 L1361.1,122.8 L1362.5,122.3 L1363.9,121.8 L1365.3,121.4 L1366.7,120.9 L1368.1,120.4 L1369.5,119.9 L1370.9,119.4 L1372.3,118.9 L1373.7,118.3 L1375.1,117.8 L1376.5,117.2 L1377.9,116.7 L1379.3,116.1 L1380.7,115.5 L1382.1,114.9 L1383.5,114.4 L1384.9,113.8 L1386.3,113.2 L1387.7,112.6 L1389.1,112.0 L1390.5,111.5 L1391.9,110.9 L1393.3,110.3 L1394.7,109.8 L1396.1,109.2 L1397.5,108.7 L1398.9,108.1 L1400.4,107.6 L1401.8,107.1 L1403.2,106.7 L1404.6,106.2 L1406.1,105.8 L1407.5,105.3 L1408.9,104.9 L1410.4,104.5 L1411.8,104.2 L1413.3,103.8 L1414.7,103.5 L1416.2,103.2 L1417.6,102.9 L1419.1,102.6 L1420.6,102.3 L1422.0,102.1 L1423.5,101.8 L1425.0,101.6 L1426.5,101.4 L1428.0,101.1 L1429.4,100.9 L1430.9,100.8 L1432.4,100.6 L1433.9,100.4 L1435.4,100.3 L1436.9,100.1 L1438.3,100.0 L1439.8,99.8 L1441.3,99.7 L1442.8,99.6 L1444.3,99.4 L1445.8,99.3 L1447.3,99.2 L1448.8,99.1 L1450.2,99.0 L1451.7,98.9 L1453.2,98.7 L1454.7,98.6 L1456.2,98.4 L1457.6,98.2 L1459.1,97.9 L1460.6,97.6 L1462.0,97.3 L1463.5,97.0 L1464.9,96.6 L1466.3,96.1 L1467.7,95.6 L1469.2,95.1 L1470.6,94.5 L1472.0,94.0 L1473.4,93.4 L1474.8,92.8 L1476.2,92.2 L1477.6,91.7 L1479.1,91.2 L1480.5,90.7 L1481.9,90.3 L1483.3,89.9 L1484.8,89.6 L1486.3,89.4 L1487.7,89.3 L1489.2,89.2 L1490.7,89.3 L1492.2,89.4 L1493.7,89.7 L1495.3,90.0 L1496.8,90.3 L1498.3,90.6 L1499.9,90.9 L1501.4,91.1 L1502.9,91.4 L1504.4,91.5 L1505.9,91.7 L1507.4,91.8 L1508.9,91.8 L1510.4,91.9 L1511.8,91.9 L1513.3,91.9 L1514.8,91.8 L1516.3,91.7 L1517.7,91.6 L1519.2,91.5 L1520.7,91.4 L1522.2,91.2 L1523.6,91.0 L1525.1,90.8 L1526.6,90.6 L1528.1,90.4 L1529.5,90.2 L1531.0,89.9 L1532.5,89.7 L1534.0,89.5 L1535.5,89.2 L1537.0,89.0 L1538.5,88.8 L1539.9,88.6 L1541.4,88.4 L1542.9,88.2 L1544.4,88.0 L1545.9,87.9 L1547.4,87.8 L1548.9,87.7 L1550.4,87.6 L1551.9,87.6 L1553.4,87.6 L1554.9,87.6 L1556.3,87.7 L1557.8,87.8 L1559.3,87.9 L1560.8,88.1 L1562.3,88.3 L1563.8,88.5 L1565.3,88.8 L1566.8,89.0 L1568.3,89.2 L1569.8,89.5 L1571.3,89.7 L1572.8,89.9 L1574.3,90.1 L1575.8,90.3 L1577.3,90.4 L1578.8,90.5 L1580.3,90.6 L1581.8,90.6 L1583.3,90.6 L1584.8,90.5 L1586.3,90.4 L1587.8,90.2 L1589.3,90.0 L1590.8,89.7 L1592.3,89.5 L1593.8,89.3 L1595.3,89.1 L1596.8,89.0 L1598.3,88.9 L1599.8,88.9 L1601.3,88.9 L1602.8,88.9 L1604.3,89.0 L1605.8,89.1 L1607.3,89.2 L1608.7,89.4 L1610.2,89.6 L1611.7,89.9 L1613.2,90.2 L1614.6,90.5 L1616.1,90.8 L1617.5,91.2 L1619.0,91.6 L1620.4,92.0 L1621.8,92.4 L1623.3,92.9 L1624.7,93.4 L1626.1,93.8 L1627.5,94.3 L1629.0,94.8 L1630.4,95.3 L1631.8,95.7 L1633.2,96.2 L1634.7,96.6 L1636.1,97.0 L1637.6,97.4 L1639.0,97.7 L1640.5,98.1 L1641.9,98.4 L1643.4,98.7 L1644.9,99.0 L1646.3,99.2 L1647.8,99.5 L1649.3,99.7 L1650.8,99.9 L1652.3,100.1 L1653.7,100.2 L1655.2,100.4 L1656.7,100.5 L1658.2,100.7 L1659.7,100.8 L1661.2,100.9 L1662.7,100.9 L1664.2,101.0 L1665.7,101.0 L1667.2,101.1 L1668.8,101.1 L1670.3,101.1 L1671.8,101.1 L1673.3,101.1 L1674.8,101.0 L1676.3,101.0 L1677.8,100.9 L1679.3,100.9 L1680.8,100.8 L1682.3,100.7 L1683.9,100.6 L1685.4,100.5 L1686.9,100.3 L1688.4,100.2 L1689.9,100.1 L1691.4,100.0 L1692.9,99.8 L1694.4,99.7 L1695.9,99.5 L1697.4,99.4 L1698.9,99.2 L1700.4,99.1 L1701.9,98.9 L1703.4,98.8 L1704.9,98.7 L1706.4,98.5 L1707.9,98.4 L1709.4,98.3 L1710.9,98.2 L1712.4,98.1 L1713.9,98.0 L1715.4,97.9 L1716.9,97.8 L1718.3,97.8 L1719.8,97.7 L1721.3,97.7 L1722.8,97.7 L1724.3,97.7 L1725.8,97.7 L1727.2,97.7 L1728.7,97.8 L1730.2,97.9 L1731.7,98.0 L1733.1,98.1 L1734.6,98.2 L1736.1,98.4 L1737.5,98.6 L1739.0,98.8 L1740.5,99.0 L1741.9,99.3 L1743.4,99.6 L1744.8,100.0 L1746.3,100.3 L1747.7,100.7 L1749.2,101.2 L1750.6,101.6 L1752.0,102.5" stroke="#ff0000"/>
<path d="M279.5,63.6 L281.0,63.6 L282.5,63.6 L284.0,63.7 L285.5,63.7 L287.0,63.7 L288.5,63.7 L290.0,63.7 L291.5,63.7 L293.0,63.7 L294.5,63.8 L296.0,63.8 L297.5,63.8 L299.0,63.8 L300.6,63.8 L302.1,63.8 L303.6,63.8 L305.1,63.8 L306.6,63.8 L308.1,63.8 L309.6,63.8 L311.1,63.8 L312.6,63.8 L314.1,63.8 L315.6,63.8 L317.1,63.8 L318.6,63.8 L320.1,63.8 L321.6,63.8 L323.1,63.8 L324.6,63.8 L326.1,63.8 L327.6,63.9 L329.1,63.9 L330.6,63.9 L332.1,63.9 L333.6,63.9 L335.1,63.9 L336.6,63.9 L338.1,63.9 L339.6,63.9 L341.1,63.9 L342.6,63.9 L344.1,63.9 L345.6,63.9 L347.1,64.0 L348.6,64.0 L350.1,64.0 L351.6,64.0 L353.1,64.0 L354.6,64.1 L356.1,64.1 L357.6,64.1 L359.1,64.1 L360.6,64.1 L362.1,64.2 L363.6,64.2 L365.1,64.2 L366.6,64.3 L368.1,64.3 L369.6,64.3 L371.1,64.4 L372.5,64.4 L374.0,64.5 L375.5,64.5 L377.0,64.6 L378.5,64.6 L380.0,64.7 L381.5,64.7 L383.0,64.8 L384.5,64.8 L386.0,64.9 L387.5,65.0 L389.0,65.0 L390.5,65.1 L392.0,65.2 L393.5,65.3 L395.0,65.3 L396.5,65.4 L398.0,65.5 L399.5,65.6 L401.0,65.7 L402.5,65.8 L404.0,65.9 L405.5,66.0 L407.0,66.1 L408.5,66.2 L410.0,66.3 L411.5,66.5 L413.0,66.6 L414.5,66.7 L415.9,66.8 L417.4,67.0 L418.9,67.1 L420.4,67.2 L421.9,67.4 L423.4,67.5 L424.9,67.7 L426.4,67.9 L427.9,68.0 L429.4,68.2 L430.9,68.4 L432.4,68.5 L433.9,68.7 L435.4,68.9 L436.9,69.1 L438.4,69.3 L439.9,69.5 L441.4,69.7 L442.9,69.9 L444.4,70.1 L445.8,70.3 L447.3,70.6 L448.8,70.8 L450.3,71.0 L451.8,71.3 L453.3,71.5 L454.8,71.8 L456.3,72.1 L457.7,72.4 L459.2,72.7 L460.7,73.0 L462.2,73.3 L463.6,73.6 L465.1,73.9 L466.6,74.3 L468.0,74.6 L469.5,75.0 L470.9,75.4 L472.4,75.7 L473.8,76.1 L475.3,76.6 L476.7,77.0 L478.1,77.4 L479.6,77.9 L481.0,78.3 L482.4,78.8 L483.8,79.3 L485.2,79.8 L486.6,80.4 L488.0,80.9 L489.4,81.5 L490.8,82.0 L492.1,82.6 L493.5,83.2 L494.9,83.8 L496.2,84.5 L497.6,85.1 L498.9,85.8 L500.2,86.5 L501.6,87.2 L502.9,87.9 L504.2,88.6 L505.5,89.4 L506.8,90.1 L508.1,90.9 L509.4,91.7 L510.6,92.5 L511.9,93.3 L513.2,94.1 L514.4,94.9 L515.6,95.8 L516.9,96.7 L518.1,97.5 L519.3,98.4 L520.5,99.3 L521.7,100.2 L522.9,101.2 L524.1,102.1 L525.2,103.1 L526.4,104.0 L527.5,105.0 L528.7,106.0 L529.8,107.0 L530.9,108.0 L532.0,109.0 L533.1,110.0 L534.2,111.1 L535.3,112.1 L536.4,113.2 L537.4,114.2 L538.5,115.3 L539.5,116.4 L540.5,117.5 L541.5,118.6 L542.5,119.7 L543.5,120.8 L544.5,122.0 L545.5,123.1 L546.4,124.2 L547.4,125.4 L548.3,126.6 L549.2,127.7 L550.2,128.9 L551.1,130.1 L551.9,131.3 L552.8,132.5 L553.7,133.7 L554.6,134.9 L555.4,136.2 L556.2,137.4 L557.1,138.6 L557.9,139.9 L558.7,141.1 L559.5,142.4 L560.3,143.6 L561.1,144.9 L561.8,146.2 L562.6,147.5 L563.4,148.7 L564.1,150.0 L564.9,151.3 L565.6,152.6 L566.3,153.9 L567.0,155.3 L567.7,156.6 L568.4,157.9 L569.1,159.2 L569.8,160.5 L570.5,161.9 L571.2,163.2 L571.9,164.6 L572.5,165.9 L573.2,167.3 L573.8,168.6 L574.5,170.0 L575.1,171.3 L575.7,172.7 L576.4,174.1 L577.0,175.4 L577.6,176.8 L578.2,178.2 L578.8,179.6 L579.4,180.9 L580.0,182.3 L580.6,183.7 L581.2,185.1 L581.8,186.5 L582.4,187.9 L582.9,189.3 L583.5,190.7 L584.1,192.1 L584.6,193.5 L585.2,194.9 L585.8,196.3 L586.3,197.7 L586.9,199.1 L587.4,200.5 L588.0,201.9 L588.5,203.3 L589.1,204.7 L589.6,206.1 L590.2,207.5 L590.7,208.9 L591.2,210.3 L591.8,211.7 L592.3,213.1 L592.8,214.5 L593.3,215.9 L593.9,217.3 L594.4,218.7 L594.9,220.2 L595.4,221.6 L595.9,223.0 L596.4,224.4 L596.9,225.8 L597.4,227.2 L597.9,228.6 L598.4,230.1 L598.9,231.5 L599.4,232.9 L599.9,234.3 L600.4,235.7 L600.9,237.2 L601.4,238.6 L601.8,240.0 L602.3,241.4 L602.8,242.8 L603.3,244.3 L603.8,245.7 L604.2,247.1 L604.7,248.5 L605.2,250.0 L605.6,251.4 L606.1,252.8 L606.5,254.2 L607.0,255.7 L607.4,257.1 L607.9,258.5 L608.3,260.0 L608.8,261.4 L609.2,262.8 L609.7,264.3 L610.1,265.7 L610.6,267.1 L611.0,268.6 L611.4,270.0 L611.9,271.4 L612.3,272.9 L612.7,274.3 L613.2,275.7 L613.6,277.2 L614.0,278.6 L614.4,280.1 L614.8,281.5 L615.3,282.9 L615.7,284.4 L616.1,285.8 L616.5,287.3 L616.9,288.7 L617.3,290.1 L617.7,291.6 L618.1,293.0 L618.5,294.5 L618.9,295.9 L619.3,297.4 L619.7,298.8 L620.1,300.3 L620.5,301.7 L620.9,303.2 L621.3,304.6 L621.6,306.0 L622.0,307.5 L622.4,308.9 L622.8,310.4 L623.2,311.8 L623.5,313.3 L623.9,314.7 L624.3,316.2 L624.7,317.7 L625.0,319.1 L625.4,320.6 L625.8,322.0 L626.1,323.5 L626.5,324.9 L626.8,326.4 L627.2,327.8 L627.6,329.3 L627.9,330.7 L628.3,332.2 L628.6,333.7 L629.0,335.1 L629.3,336.6 L629.7,338.0 L630.0,339.5 L630.3,341.0 L630.7,342.4 L631.0,343.9 L631.4,345.3 L631.7,346.8 L632.0,348.3 L632.4,349.7 L632.7,351.2 L633.0,352.6 L633.4,354.1 L633.7,355.6 L634.0,357.0 L634.4,358.5 L634.7,360.0 L635.0,361.4 L635.3,362.9 L635.6,364.4 L636.0,365.8 L636.3,367.3 L636.6,368.8 L636.9,370.2 L637.2,371.7 L637.5,373.2 L637.9,374.6 L638.2,376.1 L638.5,377.6 L638.8,379.0 L639.1,380.5 L639.4,382.0 L639.7,383.4 L640.0,384.9 L640.3,386.4 L640.6,387.8 L640.9,389.3 L641.2,390.8 L641.5,392.3 L641.8,393.7 L642.1,395.2 L642.4,396.7 L642.7,398.1 L642.9,399.6 L643.2,401.1 L643.5,402.6 L643.8,404.0 L644.1,405.5 L644.4,407.0 L644.7,408.5 L644.9,409.9 L645.2,411.4 L645.5,412.9 L645.8,414.4 L646.1,415.8 L646.3,417.3 L646.6,418.8 L646.9,420.3 L647.2,421.7 L647.4,423.2 L647.7,424.7 L648.0,426.2 L648.3,427.7 L648.5,429.1 L648.8,430.6 L649.1,432.1 L649.3,433.6 L649.6,435.0 L649.9,436.5 L650.1,438.0 L650.4,439.5 L650.7,441.0 L650.9,442.4 L651.2,443.9 L651.4,445.4 L651.7,446.9 L652.0,448.4 L652.2,449.8 L652.5,451.3 L652.7,452.8 L653.0,454.3 L653.2,455.8 L653.5,457.2 L653.8,458.7 L654.0,460.2 L654.3,461.7 L654.5,463.2 L654.8,464.6 L655.0,466.1 L655.3,467.6 L655.5,469.1 L655.8,470.6 L656.0,472.0 L656.3,473.5 L656.5,475.0 L656.8,476.5 L657.0,478.0 L657.3,479.5 L657.5,480.9 L657.7,482.4 L658.0,483.9 L658.2,485.4 L658.5,486.9 L658.7,488.3 L659.0,489.8 L659.2,491.3 L659.5,492.8 L659.7,494.3 L659.9,495.8 L660.2,497.2 L660.4,498.7 L660.7,500.2 L660.9,501.7 L661.1,503.2 L661.4,504.7 L661.6,506.1 L661.8,507.6 L662.1,509.1 L662.3,510.6 L662.6,512.1 L662.8,513.6 L663.0,515.0 L663.3,516.5 L663.5,518.0 L663.7,519.5 L664.0,521.0 L664.2,522.4 L664.4,523.9 L664.7,525.4 L664.9,526.9 L665.1,528.4 L665.4,529.9 L665.6,531.3 L665.8,532.8 L666.1,534.3 L666.3,535.8 L666.5,537.3 L666.8,538.8 L667.0,540.2 L667.2,541.7 L667.4,543.2 L667.7,544.7 L667.9,546.2 L668.1,547.7 L668.4,549.2 L668.6,550.6 L668.8,552.1 L669.0,553.6 L669.3,555.1 L669.5,556.6 L669.7,558.1 L669.9,559.5 L670.2,561.0 L670.4,562.5 L670.6,564.0 L670.8,565.5 L671.1,567.0 L671.3,568.4 L671.5,569.9 L671.7,571.4 L671.9,572.9 L672.2,574.4 L672.4,575.9 L672.6,577.4 L672.8,578.8 L673.0,580.3 L673.3,581.8 L673.5,583.3 L673.7,584.8 L673.9,586.3 L674.1,587.7 L674.4,589.2 L674.6,590.7 L674.8,592.2 L675.0,593.7 L675.2,595.2 L675.4,596.7 L675.7,598.1 L675.9,599.6 L676.1,601.1 L676.3,602.6 L676.5,604.1 L676.7,605.6 L676.9,607.0 L677.1,608.5 L677.4,610.0 L677.6,611.5 L677.8,613.0 L678.0,614.5 L678.2,616.0 L678.4,617.4 L678.6,618.9 L678.8,620.4 L679.1,621.9 L679.3,623.4 L679.5,624.9 L679.7,626.4 L679.9,627.8 L680.1,629.3 L680.3,630.8 L680.5,632.3 L680.7,633.8 L680.9,635.3 L681.1,636.8 L681.3,638.3 L681.5,639.7 L681.7,641.2 L682.0,642.7 L682.2,644.2 L682.4,645.7 L682.6,647.2 L682.8,648.7 L683.0,650.1 L683.2,651.6 L683.4,653.1 L683.6,654.6 L683.8,656.1 L684.0,657.6 L684.2,659.1 L684.4,660.6 L684.6,662.0 L684.8,663.5 L685.0,665.0 L685.2,666.5 L685.4,668.0 L685.6,669.5 L685.8,671.0 L686.0,672.4 L686.2,673.9 L686.4,675.4 L686.6,676.9 L686.8,678.4 L687.0,679.9 L687.2,681.4 L687.4,682.9 L687.6,684.3 L687.8,685.8 L688.0,687.3 L688.2,688.8 L688.3,690.3 L688.5,691.8 L688.7,693.3 L688.9,694.8 L689.1,696.3 L689.3,697.7 L689.5,699.2 L689.7,700.7 L689.9,702.2 L690.1,703.7 L690.3,705.2 L690.5,706.7 L690.7,708.2 L690.9,709.6 L691.0,711.1 L691.2,712.6 L691.4,714.1 L691.6,715.6 L691.8,717.1 L692.0,718.6 L692.2,720.1 L692.4,721.6 L692.6,723.0 L692.8,724.5 L692.9,726.0 L693.1,727.5 L693.3,729.0 L693.5,730.5 L693.7,732.0 L693.9,733.5 L694.1,735.0 L694.3,736.4 L694.4,737.9 L694.6,739.4 L694.8,740.9 L695.0,742.4 L695.2,743.9 L695.4,745.4 L695.5,746.9 L695.7,748.4 L695.9,749.9 L696.1,751.3 L696.3,752.8 L696.5,754.3 L696.6,755.8 L696.8,757.3 L697.0,758.8 L697.2,760.3 L697.4,761.8 L697.6,763.3 L697.7,764.8 L697.9,766.2 L698.1,767.7 L698.3,769.2 L698.5,770.7 L698.6,772.2 L698.8,773.7 L699.0,775.2 L699.2,776.7 L699.4,778.2 L699.5,779.7 L699.7,781.2 L699.9,782.6 L700.1,784.1 L700.2,785.6 L700.4,787.1 L700.6,788.6 L700.8,790.1 L701.0,791.6 L701.1,793.1 L701.3,794.6 L701.5,796.1 L701.7,797.6 L701.8,799.1 L702.0,800.5 L702.2,802.0 L702.4,803.5 L702.6,805.0 L702.7,806.5 L702.9,808.0 L703.1,809.5 L703.3,811.0 L703.4,812.5 L703.6,814.0 L703.8,815.5 L704.0,816.9 L704.2,818.4 L704.3,819.9 L704.5,821.4 L704.7,822.9 L704.9,824.4 L705.1,825.9 L705.2,827.4 L705.4,828.9 L705.6,830.4 L705.8,831.9 L706.0,833.3 L706.1,834.8 L706.3,836.3 L706.5,837.8 L706.7,839.3 L706.9,840.8 L707.1,842.3 L707.2,843.8 L707.4,845.3 L707.6,846.8 L707.8,848.2 L708.0,849.7 L708.2,851.2 L708.4,852.7 L708.5,854.2 L708.7,855.7 L708.9,857.2 L709.1,858.7 L709.3,860.2 L709.5,861.7 L709.7,863.1 L709.9,864.6 L710.1,866.1 L710.3,867.6 L710.5,869.1 L710.6,870.6 L710.8,872.1 L711.0,873.6 L711.2,875.1 L711.4,876.5 L711.6,878.0 L711.8,879.5 L712.0,881.0 L712.2,882.5 L712.4,884.0 L712.6,885.5 L712.8,886.9 L713.0,888.4 L713.3,889.9 L713.5,891.4 L713.7,892.9 L713.9,894.4 L714.1,895.9 L714.3,897.4 L714.5,898.8 L714.7,900.3 L714.9,901.8 L715.2,903.3 L715.4,904.8 L715.6,906.3 L715.8,907.7 L716.0,909.2 L716.2,910.7 L716.5,912.2 L716.7,913.7 L716.9,915.2 L717.1,916.6 L717.4,918.1 L717.6,919.6 L717.8,921.1 L718.0,922.6 L718.3,924.1 L718.5,925.5 L718.7,927.0 L719.0,928.5 L719.2,930.0 L719.5,931.5 L719.7,932.9 L719.9,934.4 L720.2,935.9 L720.4,937.4 L720.7,938.9 L721.0,940.3 L721.3,941.8 L721.6,943.3 L721.9,944.7 L722.2,946.2 L722.5,947.6 L722.9,949.1 L723.3,950.6 L723.6,952.0 L724.1,953.4 L724.5,954.9 L724.9,956.3 L725.4,957.7 L725.9,959.2 L726.5,960.6 L727.0,962.0 L727.6,963.4 L728.2,964.8 L728.9,966.2 L729.5,967.6 L730.2,968.9 L731.0,970.3 L731.8,971.6 L732.6,972.9 L733.5,973.9 L734.5,974.5 L735.6,974.4 L736.8,973.6 L738.0,972.5 L739.0,971.2 L739.9,969.7 L740.6,968.3 L741.2,966.9 L741.7,965.5 L742.1,964.1 L742.5,962.7 L742.9,961.3 L743.3,959.9 L743.6,958.4 L744.0,957.0 L744.4,955.6 L744.8,954.1 L745.2,952.7 L745.6,951.3 L746.0,949.8 L746.3,948.4 L746.7,946.9 L747.1,945.5 L747.5,944.0 L747.8,942.6 L748.2,941.1 L748.6,939.7 L749.0,938.2 L749.3,936.7 L749.7,935.3 L750.1,933.8 L750.4,932.4 L750.8,930.9 L751.2,929.4 L751.5,928.0 L751.9,926.5 L752.2,925.0 L752.6,923.6 L752.9,922.1 L753.3,920.7 L753.6,919.2 L754.0,917.7 L754.3,916.3 L754.7,914.8 L755.0,913.3 L755.4,911.9 L755.7,910.4 L756.1,909.0 L756.4,907.5 L756.7,906.0 L757.1,904.6 L757.4,903.1 L757.8,901.6 L758.1,900.2 L758.4,898.7 L758.8,897.2 L759.1,895.8 L759.4,894.3 L759.7,892.9 L760.1,891.4 L760.4,889.9 L760.7,888.5 L761.0,887.0 L761.4,885.5 L761.7,884.1 L762.0,882.6 L762.3,881.2 L762.7,879.7 L763.0,878.2 L763.3,876.8 L763.6,875.3 L764.0,873.8 L764.3,872.4 L764.6,870.9 L764.9,869.4 L765.2,868.0 L765.5,866.5 L765.9,865.1 L766.2,863.6 L766.5,862.1 L766.8,860.7 L767.1,859.2 L767.5,857.7 L767.8,856.3 L768.1,854.8 L768.4,853.3 L768.7,851.9 L769.0,850.4 L769.4,849.0 L769.7,847.5 L770.0,846.0 L770.3,844.6 L770.6,843.1 L771.0,841.6 L771.3,840.2 L771.6,838.7 L771.9,837.2 L772.2,835.8 L772.6,834.3 L772.9,832.9 L773.2,831.4 L773.5,829.9 L773.8,828.5 L774.2,827.0 L774.5,825.5 L774.8,824.1 L775.1,822.6 L775.5,821.1 L775.8,819.7 L776.1,818.2 L776.4,816.8 L776.8,815.3 L777.1,813.8 L777.4,812.4 L777.8,810.9 L778.1,809.4 L778.4,808.0 L778.8,806.5 L779.1,805.1 L779.4,803.6 L779.8,802.1 L780.1,800.7 L780.5,799.2 L780.8,797.7 L781.2,796.3 L781.5,794.8 L781.8,793.3 L782.2,791.9 L782.5,790.4 L782.9,789.0 L783.2,787.5 L783.6,786.0 L784.0,784.6 L784.3,783.1 L784.7,781.6 L785.0,780.2 L785.4,778.7 L785.8,777.3 L786.1,775.8 L786.5,774.3 L786.9,772.9 L787.2,771.4 L787.6,770.0 L788.0,768.5 L788.4,767.1 L788.8,765.6 L789.1,764.1 L789.5,762.7 L789.9,761.2 L790.3,759.8 L790.7,758.3 L791.1,756.9 L791.5,755.4 L791.9,754.0 L792.3,752.5 L792.7,751.1 L793.1,749.6 L793.5,748.2 L794.0,746.7 L794.4,745.3 L794.8,743.8 L795.2,742.4 L795.6,741.0 L796.1,739.5 L796.5,738.1 L796.9,736.6 L797.4,735.2 L797.8,733.8 L798.3,732.3 L798.7,730.9 L799.2,729.5 L799.6,728.0 L800.1,726.6 L800.6,725.2 L801.0,723.7 L801.5,722.3 L802.0,720.9 L802.4,719.5 L802.9,718.1 L803.4,716.6 L803.9,715.2 L804.4,713.8 L804.9,712.4 L805.4,711.0 L805.9,709.6 L806.4,708.1 L806.9,706.7 L807.4,705.3 L807.9,703.9 L808.5,702.5 L809.0,701.1 L809.5,699.7 L810.1,698.3 L810.6,696.9 L811.2,695.5 L811.7,694.1 L812.3,692.7 L812.8,691.4 L813.4,690.0 L814.0,688.6 L814.5,687.2 L815.1,685.8 L815.7,684.4 L816.3,683.1 L816.9,681.7 L817.5,680.3 L818.1,678.9 L818.7,677.6 L819.3,676.2 L819.9,674.9 L820.5,673.5 L821.2,672.1 L821.8,670.8 L822.4,669.4 L823.1,668.1 L823.7,666.7 L824.4,665.4 L825.0,664.0 L825.7,662.7 L826.4,661.4 L827.1,660.0 L827.7,658.7 L828.4,657.4 L829.1,656.0 L829.8,654.7 L830.5,653.4 L831.2,652.1 L832.0,650.7 L832.7,649.4 L833.4,648.1 L834.1,646.8 L834.9,645.5 L835.6,644.2 L836.4,642.9 L837.1,641.6 L837.9,640.3 L838.7,639.0 L839.5,637.8 L840.3,636.5 L841.1,635.2 L841.9,634.0 L842.7,632.7 L843.5,631.4 L844.3,630.2 L845.2,629.0 L846.0,627.7 L846.9,626.5 L847.8,625.3 L848.7,624.1 L849.6,622.9 L850.5,621.7 L851.4,620.5 L852.3,619.3 L853.2,618.2 L854.2,617.0 L855.1,615.9 L856.1,614.7 L857.1,613.6 L858.1,612.5 L859.1,611.4 L860.1,610.3 L861.1,609.2 L862.2,608.1 L863.2,607.1 L864.3,606.0 L865.4,605.0 L866.5,603.9 L867.6,602.9 L868.7,601.9 L869.8,600.9 L871.0,600.0 L872.1,599.0 L873.3,598.1 L874.5,597.1 L875.7,596.2 L876.9,595.3 L878.2,594.4 L879.4,593.6 L880.7,592.7 L882.0,591.9 L883.3,591.0 L884.6,590.2 L886.0,589.5 L887.3,588.7 L888.6,588.0 L890.0,587.3 L891.4,586.6 L892.8,585.9 L894.2,585.3 L895.6,584.7 L897.0,584.1 L898.4,583.5 L899.8,583.0 L901.3,582.6 L902.7,582.1 L904.1,581.7 L905.6,581.3 L907.1,581.0 L908.5,580.7 L910.0,580.4 L911.4,580.2 L912.9,580.0 L914.4,579.9 L915.8,579.8 L917.3,579.7 L918.8,579.7 L920.2,579.7 L921.7,579.7 L923.2,579.8 L924.6,579.9 L926.1,580.0 L927.6,580.2 L929.0,580.4 L930.5,580.6 L932.0,580.8 L933.4,581.1 L934.9,581.4 L936.3,581.8 L937.8,582.1 L939.2,582.5 L940.6,583.0 L942.0,583.4 L943.5,583.9 L944.9,584.4 L946.3,584.9 L947.7,585.4 L949.1,586.0 L950.5,586.6 L951.8,587.2 L953.2,587.9 L954.5,588.5 L955.9,589.2 L957.2,589.9 L958.6,590.6 L959.9,591.3 L961.2,592.1 L962.5,592.9 L963.7,593.6 L965.0,594.5 L966.3,595.3 L967.5,596.1 L968.8,597.0 L970.0,597.8 L971.2,598.7 L972.4,599.6 L973.6,600.6 L974.8,601.5 L976.0,602.4 L977.1,603.4 L978.3,604.4 L979.4,605.3 L980.6,606.3 L981.7,607.3 L982.8,608.4 L983.9,609.4 L985.0,610.4 L986.1,611.5 L987.1,612.6 L988.2,613.6 L989.2,614.7 L990.3,615.8 L991.3,616.9 L992.3,618.0 L993.3,619.2 L994.3,620.3 L995.3,621.4 L996.3,622.6 L997.3,623.7 L998.3,624.9 L999.2,626.0 L1000.1,627.2 L1001.1,628.4 L1002.0,629.5 L1002.9,630.7 L1003.8,631.9 L1004.7,633.1 L1005.6,634.3 L1006.5,635.5 L1007.3,636.7 L1008.2,637.9 L1009.1,639.2 L1009.9,640.4 L1010.7,641.6 L1011.6,642.9 L1012.4,644.1 L1013.2,645.3 L1014.0,646.6 L1014.8,647.9 L1015.6,649.1 L1016.4,650.4 L1017.2,651.7 L1017.9,652.9 L1018.7,654.2 L1019.4,655.5 L1020.2,656.8 L1020.9,658.1 L1021.7,659.4 L1022.4,660.7 L1023.1,662.0 L1023.9,663.3 L1024.6,664.6 L1025.3,665.9 L1026.0,667.2 L1026.7,668.5 L1027.4,669.8 L1028.1,671.2 L1028.7,672.5 L1029.4,673.8 L1030.1,675.2 L1030.8,676.5 L1031.4,677.8 L1032.1,679.2 L1032.8,680.5 L1033.4,681.9 L1034.1,683.2 L1034.7,684.6 L1035.4,686.0 L1036.0,687.3 L1036.6,688.7 L1037.3,690.0 L1037.9,691.4 L1038.5,692.8 L1039.2,694.1 L1039.8,695.5 L1040.4,696.9 L1041.0,698.3 L1041.7,699.6 L1042.3,701.0 L1042.9,702.4 L1043.5,703.8 L1044.1,705.2 L1044.7,706.5 L1045.3,707.9 L1045.9,709.3 L1046.5,710.7 L1047.2,712.1 L1047.8,713.5 L1048.4,714.9 L1049.0,716.3 L1049.6,717.7 L1050.2,719.0 L1050.8,720.4 L1051.4,721.8 L1052.0,723.2 L1052.6,724.6 L1053.2,726.0 L1053.8,727.4 L1054.4,728.8 L1055.0,730.2 L1055.6,731.6 L1056.2,733.0 L1056.8,734.4 L1057.4,735.8 L1058.0,737.2 L1058.6,738.6 L1059.2,739.9 L1059.8,741.3 L1060.4,742.7 L1061.0,744.1 L1061.6,745.5 L1062.2,746.9 L1062.8,748.3 L1063.4,749.7 L1064.0,751.0 L1064.5,752.4 L1065.1,753.8 L1065.7,755.2 L1066.3,756.5 L1066.8,757.9 L1067.4,759.3 L1068.0,760.6 L1068.5,762.0 L1069.1,763.4 L1069.7,764.7 L1070.2,766.1 L1070.8,767.4 L1071.3,768.8 L1071.8,770.1 L1072.4,771.5 L1072.9,772.8 L1073.4,774.2 L1074.0,775.5 L1074.5,776.8 L1075.0,778.2 L1075.5,779.5 L1076.0,780.8 L1076.5,782.2 L1077.1,783.5 L1077.6,784.8 L1078.1,786.1 L1078.7,787.4 L1079.2,788.8 L1079.8,790.1 L1080.4,791.4 L1081.0,792.7 L1081.7,794.1 L1082.3,795.4 L1083.0,796.7 L1083.8,798.1 L1084.5,799.4 L1085.3,800.8 L1086.2,802.1 L1087.1,803.5 L1088.0,804.9 L1088.9,806.3 L1090.0,807.6 L1091.0,809.0 L1092.2,810.4 L1093.3,811.8 L1094.5,813.0 L1095.6,814.2 L1096.8,815.2 L1098.0,816.0 L1099.1,816.7 L1100.2,817.1 L1101.3,817.3 L1102.3,817.2 L1103.3,816.9 L1104.2,816.3 L1105.1,815.6 L1105.9,814.6 L1106.7,813.5 L1107.5,812.3 L1108.2,811.0 L1108.9,809.6 L1109.6,808.2 L1110.3,806.8 L1111.0,805.3 L1111.7,803.9 L1112.3,802.4 L1113.0,801.0 L1113.6,799.6 L1114.2,798.1 L1114.8,796.7 L1115.4,795.2 L1116.0,793.8 L1116.6,792.4 L1117.2,790.9 L1117.7,789.5 L1118.3,788.0 L1118.8,786.6 L1119.4,785.1 L1119.9,783.7 L1120.4,782.2 L1120.9,780.8 L1121.4,779.4 L1121.9,777.9 L1122.4,776.5 L1122.8,775.0 L1123.3,773.6 L1123.8,772.1 L1124.2,770.7 L1124.6,769.2 L1125.1,767.8 L1125.5,766.4 L1125.9,764.9 L1126.3,763.5 L1126.7,762.0 L1127.1,760.6 L1127.5,759.1 L1127.9,757.7 L1128.3,756.2 L1128.7,754.8 L1129.1,753.3 L1129.4,751.9 L1129.8,750.4 L1130.2,749.0 L1130.5,747.5 L1130.9,746.1 L1131.2,744.6 L1131.6,743.2 L1131.9,741.7 L1132.2,740.3 L1132.6,738.8 L1132.9,737.4 L1133.2,735.9 L1133.5,734.5 L1133.8,733.0 L1134.2,731.6 L1134.5,730.1 L1134.8,728.7 L1135.1,727.2 L1135.4,725.8 L1135.7,724.3 L1136.0,722.8 L1136.3,721.4 L1136.6,719.9 L1136.9,718.5 L1137.2,717.0 L1137.5,715.6 L1137.8,714.1 L1138.1,712.6 L1138.4,711.2 L1138.7,709.7 L1139.0,708.3 L1139.3,706.8 L1139.6,705.3 L1139.9,703.9 L1140.2,702.4 L1140.5,701.0 L1140.8,699.5 L1141.0,698.0 L1141.3,696.6 L1141.6,695.1 L1141.9,693.6 L1142.2,692.2 L1142.5,690.7 L1142.8,689.3 L1143.0,687.8 L1143.3,686.3 L1143.6,684.9 L1143.9,683.4 L1144.2,681.9 L1144.5,680.5 L1144.7,679.0 L1145.0,677.5 L1145.3,676.1 L1145.6,674.6 L1145.9,673.1 L1146.1,671.6 L1146.4,670.2 L1146.7,668.7 L1147.0,667.2 L1147.2,665.8 L1147.5,664.3 L1147.8,662.8 L1148.1,661.4 L1148.3,659.9 L1148.6,658.4 L1148.9,656.9 L1149.2,655.5 L1149.4,654.0 L1149.7,652.5 L1150.0,651.0 L1150.3,649.6 L1150.5,648.1 L1150.8,646.6 L1151.1,645.1 L1151.3,643.7 L1151.6,642.2 L1151.9,640.7 L1152.1,639.2 L1152.4,637.8 L1152.7,636.3 L1152.9,634.8 L1153.2,633.3 L1153.5,631.9 L1153.7,630.4 L1154.0,628.9 L1154.3,627.4 L1154.5,626.0 L1154.8,624.5 L1155.1,623.0 L1155.3,621.5 L1155.6,620.0 L1155.9,618.6 L1156.1,617.1 L1156.4,615.6 L1156.7,614.1 L1156.9,612.7 L1157.2,611.2 L1157.4,609.7 L1157.7,608.2 L1158.0,606.7 L1158.2,605.3 L1158.5,603.8 L1158.8,602.3 L1159.0,600.8 L1159.3,599.3 L1159.5,597.9 L1159.8,596.4 L1160.1,594.9 L1160.3,593.4 L1160.6,591.9 L1160.9,590.4 L1161.1,589.0 L1161.4,587.5 L1161.6,586.0 L1161.9,584.5 L1162.2,583.0 L1162.4,581.6 L1162.7,580.1 L1162.9,578.6 L1163.2,577.1 L1163.5,575.6 L1163.7,574.1 L1164.0,572.7 L1164.3,571.2 L1164.5,569.7 L1164.8,568.2 L1165.0,566.7 L1165.3,565.3 L1165.6,563.8 L1165.8,562.3 L1166.1,560.8 L1166.4,559.3 L1166.6,557.8 L1166.9,556.4 L1167.1,554.9 L1167.4,553.4 L1167.7,551.9 L1167.9,550.4 L1168.2,548.9 L1168.5,547.5 L1168.7,546.0 L1169.0,544.5 L1169.3,543.0 L1169.5,541.5 L1169.8,540.0 L1170.1,538.6 L1170.3,537.1 L1170.6,535.6 L1170.9,534.1 L1171.1,532.6 L1171.4,531.1 L1171.7,529.7 L1171.9,528.2 L1172.2,526.7 L1172.5,525.2 L1172.7,523.7 L1173.0,522.3 L1173.3,520.8 L1173.5,519.3 L1173.8,517.8 L1174.1,516.3 L1174.4,514.8 L1174.6,513.4 L1174.9,511.9 L1175.2,510.4 L1175.4,508.9 L1175.7,507.4 L1176.0,506.0 L1176.3,504.5 L1176.5,503.0 L1176.8,501.5 L1177.1,500.0 L1177.4,498.5 L1177.7,497.1 L1177.9,495.6 L1178.2,494.1 L1178.5,492.6 L1178.8,491.1 L1179.1,489.7 L1179.3,488.2 L1179.6,486.7 L1179.9,485.2 L1180.2,483.7 L1180.5,482.3 L1180.7,480.8 L1181.0,479.3 L1181.3,477.8 L1181.6,476.4 L1181.9,474.9 L1182.2,473.4 L1182.5,471.9 L1182.8,470.4 L1183.0,469.0 L1183.3,467.5 L1183.6,466.0 L1183.9,464.5 L1184.2,463.1 L1184.5,461.6 L1184.8,460.1 L1185.1,458.6 L1185.4,457.1 L1185.7,455.7 L1186.0,454.2 L1186.3,452.7 L1186.6,451.2 L1186.9,449.8 L1187.2,448.3 L1187.5,446.8 L1187.8,445.4 L1188.1,443.9 L1188.4,442.4 L1188.7,440.9 L1189.0,439.5 L1189.3,438.0 L1189.6,436.5 L1189.9,435.0 L1190.2,433.6 L1190.5,432.1 L1190.9,430.6 L1191.2,429.2 L1191.5,427.7 L1191.8,426.2 L1192.1,424.8 L1192.4,423.3 L1192.8,421.8 L1193.1,420.3 L1193.4,418.9 L1193.7,417.4 L1194.0,415.9 L1194.4,414.5 L1194.7,413.0 L1195.0,411.5 L1195.3,410.1 L1195.7,408.6 L1196.0,407.1 L1196.3,405.7 L1196.6,404.2 L1197.0,402.7 L1197.3,401.3 L1197.6,399.8 L1198.0,398.4 L1198.3,396.9 L1198.7,395.4 L1199.0,394.0 L1199.3,392.5 L1199.7,391.0 L1200.0,389.6 L1200.4,388.1 L1200.7,386.7 L1201.1,385.2 L1201.4,383.7 L1201.7,382.3 L1202.1,380.8 L1202.4,379.4 L1202.8,377.9 L1203.2,376.5 L1203.5,375.0 L1203.9,373.5 L1204.2,372.1 L1204.6,370.6 L1204.9,369.2 L1205.3,367.7 L1205.7,366.3 L1206.0,364.8 L1206.4,363.4 L1206.8,361.9 L1207.1,360.5 L1207.5,359.0 L1207.9,357.6 L1208.3,356.1 L1208.6,354.7 L1209.0,353.2 L1209.4,351.8 L1209.8,350.3 L1210.1,348.9 L1210.5,347.4 L1210.9,346.0 L1211.3,344.5 L1211.7,343.1 L1212.1,341.6 L1212.5,340.2 L1212.8,338.7 L1213.2,337.3 L1213.6,335.9 L1214.0,334.4 L1214.4,333.0 L1214.8,331.5 L1215.2,330.1 L1215.6,328.7 L1216.0,327.2 L1216.4,325.8 L1216.8,324.3 L1217.3,322.9 L1217.7,321.5 L1218.1,320.0 L1218.5,318.6 L1218.9,317.2 L1219.3,315.7 L1219.7,314.3 L1220.2,312.9 L1220.6,311.4 L1221.0,310.0 L1221.4,308.6 L1221.9,307.1 L1222.3,305.7 L1222.7,304.3 L1223.2,302.8 L1223.6,301.4 L1224.0,300.0 L1224.5,298.6 L1224.9,297.1 L1225.3,295.7 L1225.8,294.3 L1226.2,292.9 L1226.7,291.4 L1227.1,290.0 L1227.6,288.6 L1228.0,287.2 L1228.5,285.7 L1229.0,284.3 L1229.4,282.9 L1229.9,281.5 L1230.3,280.1 L1230.8,278.6 L1231.3,277.2 L1231.7,275.8 L1232.2,274.4 L1232.7,273.0 L1233.2,271.6 L1233.6,270.2 L1234.1,268.7 L1234.6,267.3 L1235.1,265.9 L1235.6,264.5 L1236.0,263.1 L1236.5,261.7 L1237.0,260.3 L1237.5,258.9 L1238.0,257.5 L1238.5,256.1 L1239.0,254.7 L1239.5,253.3 L1240.0,251.8 L1240.5,250.4 L1241.0,249.0 L1241.5,247.6 L1242.0,246.2 L1242.6,244.8 L1243.1,243.4 L1243.6,242.0 L1244.1,240.7 L1244.6,239.3 L1245.2,237.9 L1245.7,236.5 L1246.2,235.1 L1246.8,233.7 L1247.3,232.3 L1247.8,230.9 L1248.4,229.5 L1248.9,228.1 L1249.4,226.7 L1250.0,225.3 L1250.5,224.0 L1251.1,222.6 L1251.6,221.2 L1252.2,219.8 L1252.8,218.4 L1253.3,217.0 L1253.9,215.7 L1254.4,214.3 L1255.0,212.9 L1255.6,211.5 L1256.2,210.1 L1256.7,208.8 L1257.3,207.4 L1257.9,206.0 L1258.5,204.6 L1259.0,203.3 L1259.6,201.9 L1260.2,200.5 L1260.8,199.1 L1261.4,197.8 L1262.0,196.4 L1262.6,195.0 L1263.2,193.7 L1263.8,192.3 L1264.4,190.9 L1265.0,189.6 L1265.6,188.2 L1266.2,186.8 L1266.9,185.5 L1267.5,184.1 L1268.1,182.8 L1268.7,181.4 L1269.4,180.1 L1270.0,178.7 L1270.6,177.3 L1271.3,176.0 L1271.9,174.6 L1272.6,173.3 L1273.3,171.9 L1273.9,170.6 L1274.6,169.2 L1275.3,167.9 L1276.0,166.5 L1276.7,165.2 L1277.4,163.9 L1278.1,162.5 L1278.8,161.2 L1279.6,159.8 L1280.3,158.5 L1281.1,157.2 L1281.8,155.8 L1282.6,154.5 L1283.4,153.2 L1284.2,151.8 L1285.0,150.5 L1285.9,149.2 L1286.7,147.9 L1287.6,146.5 L1288.4,145.2 L1289.3,143.9 L1290.2,142.6 L1291.1,141.3 L1292.0,139.9 L1293.0,138.6 L1293.9,137.3 L1294.9,136.1 L1295.9,134.8 L1296.9,133.5 L1297.9,132.3 L1299.0,131.1 L1300.0,130.0 L1301.1,128.9 L1302.2,127.8 L1303.3,126.8 L1304.4,125.8 L1305.6,124.9 L1306.7,124.0 L1307.9,123.2 L1309.1,122.4 L1310.4,121.7 L1311.6,121.1 L1312.9,120.6 L1314.1,120.2 L1315.4,119.8 L1316.8,119.5 L1318.1,119.4 L1319.5,119.3 L1320.8,119.3 L1322.2,119.3 L1323.5,119.5 L1324.9,119.8 L1326.2,120.1 L1327.5,120.5 L1328.7,121.0 L1329.9,121.6 L1331.1,122.3 L1332.2,123.1 L1333.3,123.9 L1334.3,124.9 L1335.2,125.9 L1336.1,127.0 L1336.9,128.2 L1337.6,129.4 L1338.2,130.7 L1338.8,132.1 L1339.3,133.6 L1339.8,135.0 L1340.2,136.6 L1340.6,138.1 L1341.0,139.7 L1341.3,141.4 L1341.7,143.0 L1342.0,144.7 L1342.3,146.3 L1342.6,148.0 L1343.0,149.7 L1343.4,151.3 L1343.7,152.9 L1344.2,154.5 L1344.6,156.1 L1345.1,157.6 L1345.6,159.2 L1346.1,160.6 L1346.6,162.1 L1347.2,163.5 L1347.9,164.8 L1348.6,166.1 L1349.3,167.3 L1350.1,168.5 L1350.9,169.6 L1351.8,170.6 L1352.8,171.6 L1353.8,172.5 L1354.9,173.2 L1355.9,173.4 L1357.0,172.9 L1358.0,172.1 L1359.0,171.2 L1359.9,170.2 L1360.8,169.1 L1361.6,167.9 L1362.3,166.7 L1363.1,165.4 L1363.7,164.1 L1364.4,162.7 L1365.0,161.3 L1365.6,159.8 L1366.2,158.3 L1366.8,156.8 L1367.3,155.3 L1367.9,153.8 L1368.4,152.2 L1369.0,150.7 L1369.5,149.2 L1370.1,147.7 L1370.6,146.2 L1371.2,144.7 L1371.8,143.2 L1372.4,141.8 L1373.0,140.4 L1373.6,138.9 L1374.2,137.5 L1374.8,136.2 L1375.5,134.8 L1376.2,133.5 L1376.8,132.1 L1377.5,130.8 L1378.3,129.5 L1379.0,128.2 L1379.7,126.9 L1380.5,125.7 L1381.3,124.4 L1382.1,123.2 L1382.9,122.0 L1383.8,120.8 L1384.7,119.6 L1385.6,118.4 L1386.5,117.2 L1387.4,116.1 L1388.4,115.0 L1389.4,113.8 L1390.4,112.7 L1391.4,111.6 L1392.4,110.6 L1393.5,109.5 L1394.6,108.5 L1395.7,107.4 L1396.8,106.4 L1397.9,105.4 L1399.1,104.5 L1400.3,103.5 L1401.5,102.6 L1402.7,101.7 L1403.9,100.8 L1405.1,99.9 L1406.4,99.1 L1407.6,98.2 L1408.9,97.4 L1410.2,96.6 L1411.5,95.9 L1412.8,95.1 L1414.1,94.4 L1415.5,93.7 L1416.8,93.1 L1418.2,92.4 L1419.5,91.8 L1420.9,91.2 L1422.3,90.7 L1423.6,90.2 L1425.0,89.6 L1426.4,89.2 L1427.8,88.7 L1429.3,88.3 L1430.7,87.9 L1432.1,87.5 L1433.5,87.1 L1435.0,86.7 L1436.4,86.4 L1437.8,86.1 L1439.3,85.8 L1440.8,85.5 L1442.2,85.2 L1443.7,85.0 L1445.2,84.8 L1446.6,84.5 L1448.1,84.3 L1449.6,84.2 L1451.1,84.0 L1452.6,83.8 L1454.1,83.7 L1455.6,83.5 L1457.1,83.4 L1458.6,83.3 L1460.1,83.1 L1461.6,83.0 L1463.1,82.9 L1464.6,82.8 L1466.1,82.7 L1467.6,82.7 L1469.1,82.6 L1470.6,82.5 L1472.2,82.4 L1473.7,82.3 L1475.2,82.3 L1476.7,82.2 L1478.2,82.1 L1479.7,82.1 L1481.2,82.0 L1482.8,81.9 L1484.3,81.8 L1485.8,81.8 L1487.3,81.7 L1488.8,81.6 L1490.3,81.5 L1491.8,81.5 L1493.3,81.4 L1494.8,81.3 L1496.4,81.2 L1497.9,81.2 L1499.4,81.1 L1500.9,81.0 L1502.4,80.9 L1503.9,80.9 L1505.4,80.8 L1506.9,80.7 L1508.4,80.6 L1509.9,80.6 L1511.4,80.5 L1512.9,80.4 L1514.4,80.4 L1515.9,80.3 L1517.4,80.2 L1518.9,80.2 L1520.4,80.1 L1521.9,80.1 L1523.4,80.0 L1524.9,80.0 L1526.4,79.9 L1527.9,79.9 L1529.4,79.8 L1530.9,79.8 L1532.4,79.7 L1533.9,79.7 L1535.4,79.7 L1536.9,79.6 L1538.4,79.6 L1539.9,79.6 L1541.4,79.5 L1542.9,79.5 L1544.4,79.5 L1545.9,79.5 L1547.4,79.5 L1548.9,79.5 L1550.4,79.5 L1551.9,79.5 L1553.4,79.5 L1554.9,79.5 L1556.4,79.5 L1557.9,79.5 L1559.4,79.5 L1560.9,79.6 L1562.4,79.6 L1563.9,79.6 L1565.4,79.7 L1566.9,79.7 L1568.3,79.8 L1569.8,79.8 L1571.3,79.9 L1572.8,80.0 L1574.3,80.0 L1575.8,80.1 L1577.3,80.2 L1578.8,80.3 L1580.3,80.4 L1581.8,80.5 L1583.3,80.6 L1584.8,80.7 L1586.2,80.8 L1587.7,81.0 L1589.2,81.1 L1590.7,81.2 L1592.2,81.4 L1593.7,81.5 L1595.2,81.6 L1596.7,81.8 L1598.2,81.9 L1599.7,82.1 L1601.1,82.3 L1602.6,82.4 L1604.1,82.6 L1605.6,82.8 L1607.1,82.9 L1608.6,83.1 L1610.1,83.3 L1611.6,83.4 L1613.1,83.6 L1614.6,83.8 L1616.1,84.0 L1617.5,84.1 L1619.0,84.3 L1620.5,84.5 L1622.0,84.7 L1623.5,84.9 L1625.0,85.0 L1626.5,85.2 L1628.0,85.4 L1629.5,85.6 L1631.0,85.7 L1632.5,85.9 L1634.0,86.1 L1635.5,86.2 L1636.9,86.4 L1638.4,86.6 L1639.9,86.7 L1641.4,86.9 L1642.9,87.0 L1644.4,87.2 L1645.9,87.3 L1647.4,87.5 L1648.9,87.6 L1650.4,87.7 L1651.9,87.9 L1653.4,88.0 L1654.9,88.1 L1656.4,88.2 L1657.9,88.3 L1659.4,88.4 L1660.9,88.5 L1662.4,88.6 L1663.9,88.7 L1665.4,88.8 L1666.9,88.8 L1668.4,88.9 L1669.9,88.9 L1671.4,89.0 L1672.9,89.0 L1674.4,89.1 L1675.9,89.1 L1677.5,89.1 L1679.0,89.1 L1680.5,89.1 L1682.0,89.1 L1683.5,89.1 L1685.0,89.0 L1686.5,89.0 L1688.0,89.0 L1689.5,88.9 L1691.0,88.9 L1692.6,88.8 L1694.1,88.8 L1695.6,88.7 L1697.1,88.7 L1698.6,88.7 L1700.1,88.6 L1701.6,88.6 L1703.1,88.6 L1704.6,88.6 L1706.1,88.6 L1707.6,88.6 L1709.1,88.6 L1710.6,88.6 L1712.1,88.6 L1713.6,88.7 L1715.1,88.8 L1716.5,88.8 L1718.0,89.0 L1719.5,89.1 L1721.0,89.2 L1722.4,89.4 L1723.9,89.6 L1725.4,89.8 L1726.8,90.0 L1728.3,90.3 L1729.7,90.5 L1731.2,90.9 L1732.6,91.2 L1734.0,91.6 L1735.5,92.0 L1736.9,92.4 L1738.3,92.9 L1739.7,93.4 L1741.1,93.9 L1742.5,94.5 L1743.9,95.1 L1745.3,95.7 L1746.7,96.4 L1748.1,97.1 L1749.5,97.9 L1750.8,98.7 L1752.0,99.5" stroke="#000"/>
</g>
<path d="M909,977.2 H1085.5" stroke="#ff0000" stroke-width="9.2" stroke-linecap="round"/>
<path d="M909,1075.5 H1085.5" stroke="#000" stroke-width="9.2" stroke-linecap="round"/>
<g font-family="'Liberation Serif', serif" font-weight="bold" font-size="88" fill="#000"><text x="278.9" y="1345" text-anchor="middle">0</text><text x="401.7" y="1345" text-anchor="middle">2</text><text x="524.6" y="1345" text-anchor="middle">4</text><text x="647.4" y="1345" text-anchor="middle">6</text><text x="770.3" y="1345" text-anchor="middle">8</text><text x="893.1" y="1345" text-anchor="middle">10</text><text x="1015.9" y="1345" text-anchor="middle">12</text><text x="1138.8" y="1345" text-anchor="middle">14</text><text x="1261.6" y="1345" text-anchor="middle">16</text><text x="1384.5" y="1345" text-anchor="middle">18</text><text x="1507.3" y="1345" text-anchor="middle">20</text><text x="1630.1" y="1345" text-anchor="middle">22</text><text x="1753.0" y="1345" text-anchor="middle">24</text><text x="255" y="88.9" text-anchor="end">0</text><text x="255" y="326.7" text-anchor="end">5</text><text transform="translate(153.19,323.74) scale(1.186,0.82)">−</text><text x="255" y="564.5" text-anchor="end">10</text><text transform="translate(109.34,561.54) scale(1.186,0.82)">−</text><text x="255" y="802.3" text-anchor="end">15</text><text transform="translate(109.34,799.34) scale(1.186,0.82)">−</text><text x="255" y="1040.1" text-anchor="end">20</text><text transform="translate(109.34,1037.14) scale(1.186,0.82)">−</text><text x="255" y="1277.9" text-anchor="end">25</text><text transform="translate(109.34,1274.94) scale(1.186,0.82)">−</text></g>
<text x="1019" y="1445.7" text-anchor="middle" font-family="'Liberation Serif', serif" font-weight="bold" font-size="101">Frequency (GHz)</text>
<text transform="translate(89.2,656.5) rotate(-90)" text-anchor="middle" font-family="'Liberation Serif', serif" font-weight="bold" font-size="101" style="font-variant-ligatures:none">Reflection coefficient (dB)</text>
<text x="1105.5" y="1002.3" font-family="'Liberation Serif', serif" font-weight="bold" font-size="78">equivalent circuit</text>
<text x="1106.5" y="1100.5" font-family="'Liberation Serif', serif" font-weight="bold" font-size="78">full-wave</text>
</svg></body></html>
